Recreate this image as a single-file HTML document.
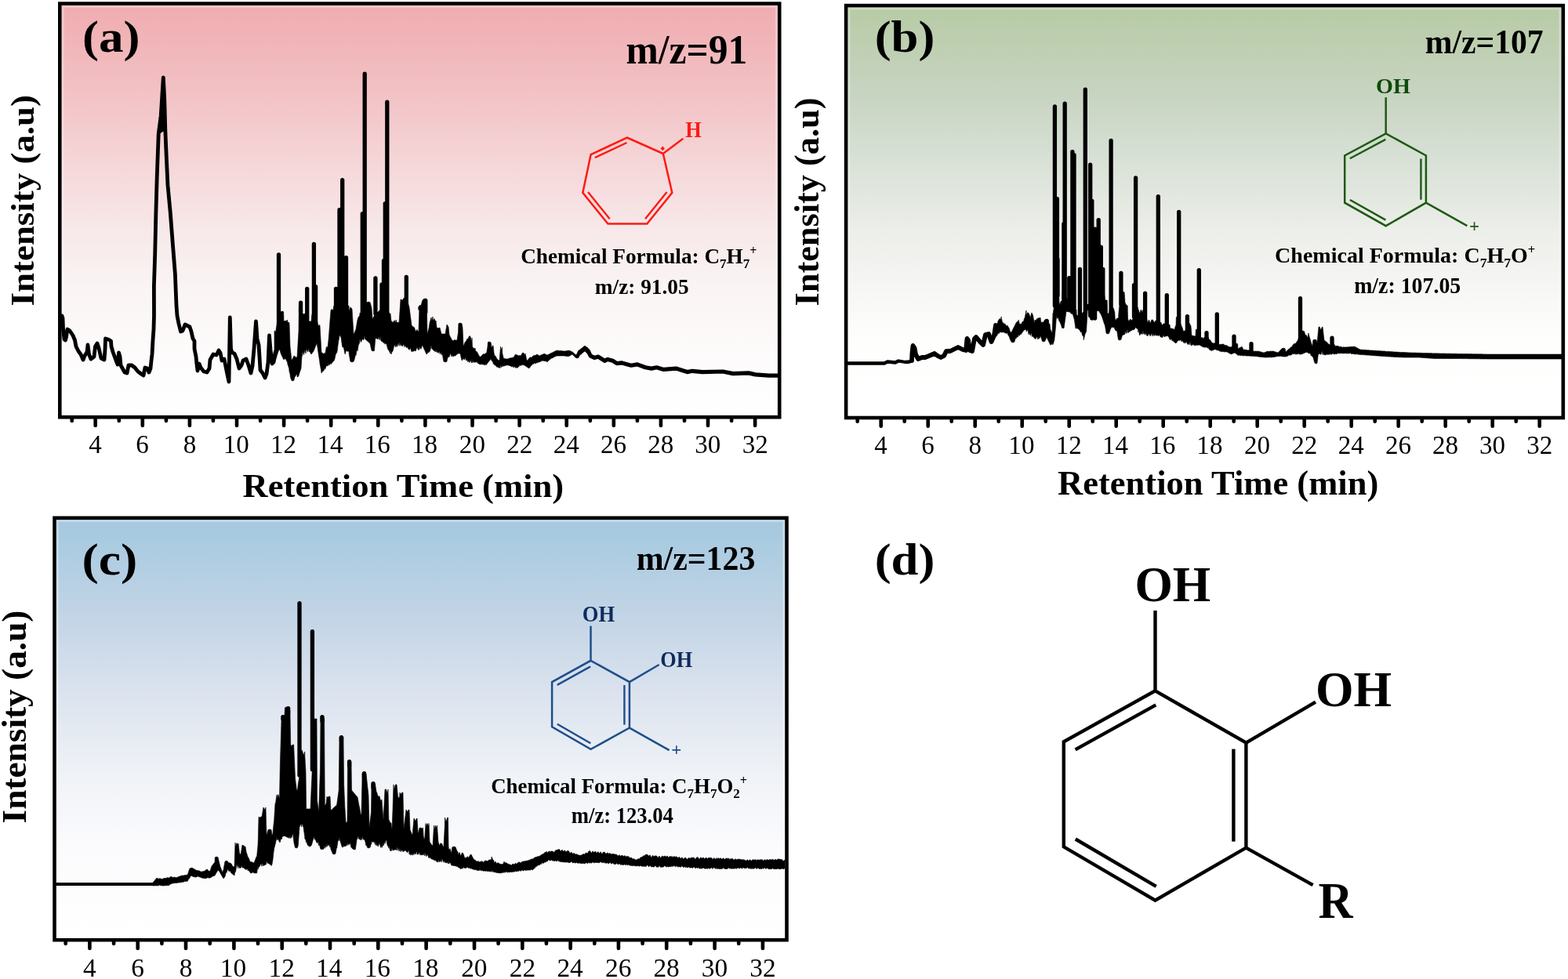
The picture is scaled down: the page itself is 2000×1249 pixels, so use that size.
<!DOCTYPE html>
<html><head><meta charset="utf-8"><title>Chromatograms</title>
<style>html,body{margin:0;padding:0;background:#fff;overflow:hidden;} svg{display:block;}</style>
</head><body>
<svg width="2000" height="1249" viewBox="0 0 2000 1249"><defs>
<linearGradient id="ga" x1="0" y1="0" x2="0" y2="1">
  <stop offset="0" stop-color="#F0ACB0"/>
  <stop offset="0.2" stop-color="#F2C0C3"/>
  <stop offset="0.382" stop-color="#F5D6D8"/>
  <stop offset="0.535" stop-color="#F7E7E8"/>
  <stop offset="0.688" stop-color="#FAF4F4"/>
  <stop offset="0.85" stop-color="#FDFBFB"/>
  <stop offset="1" stop-color="#FFFFFF"/>
</linearGradient>
<linearGradient id="gb" x1="0" y1="0" x2="0" y2="1">
  <stop offset="0" stop-color="#B7CBA5"/>
  <stop offset="0.216" stop-color="#C8D4C2"/>
  <stop offset="0.389" stop-color="#DAE2D8"/>
  <stop offset="0.543" stop-color="#ECEEE9"/>
  <stop offset="0.696" stop-color="#F7F7F5"/>
  <stop offset="0.81" stop-color="#FEFEFD"/>
  <stop offset="1" stop-color="#FFFFFF"/>
</linearGradient>
<linearGradient id="gc" x1="0" y1="0" x2="0" y2="1">
  <stop offset="0" stop-color="#A6C9DF"/>
  <stop offset="0.032" stop-color="#A7CAE0"/>
  <stop offset="0.242" stop-color="#C4D5E6"/>
  <stop offset="0.429" stop-color="#DDE4EF"/>
  <stop offset="0.616" stop-color="#F0F3F7"/>
  <stop offset="0.785" stop-color="#FBFBFD"/>
  <stop offset="1" stop-color="#FFFFFF"/>
</linearGradient>
</defs><rect x="78.6" y="6.9" width="913.3" height="523.0" fill="url(#ga)"/>
<rect x="80.10" y="8.40" width="910.30" height="520.00" fill="none" stroke="#fff" stroke-opacity="0.3" stroke-width="3.0"/>
<rect x="1081.4" y="9.4" width="910.1" height="521.3" fill="url(#gb)"/>
<rect x="1082.90" y="10.90" width="907.10" height="518.30" fill="none" stroke="#fff" stroke-opacity="0.3" stroke-width="3.0"/>
<rect x="71.8" y="663.1" width="929.4" height="533.8" fill="url(#gc)"/>
<rect x="73.30" y="664.60" width="926.40" height="530.80" fill="none" stroke="#fff" stroke-opacity="0.3" stroke-width="3.0"/>
<path d="M350.0,422.0 L351.7,423.3 L353.4,411.6 L355.1,412.8 L356.8,401.2 L357.9,397.8 L358.5,397.6 L360.0,397.0 L360.2,397.1 L361.7,397.8 L361.9,405.9 L362.0,410.0 L363.6,409.3 L365.3,409.6 L366.5,408.0 L367.0,411.1 L368.7,411.5 L369.0,412.0 L370.0,442.0 L370.4,445.6 L372.0,460.0 L372.1,459.8 L373.8,456.4 L375.0,454.0 L375.5,454.2 L377.2,455.7 L378.9,455.9 L379.0,456.0 L380.6,428.8 L381.0,422.0 L381.3,390.8 L382.3,390.3 L383.0,390.0 L384.0,390.4 L385.1,390.8 L385.7,396.9 L386.0,400.0 L387.4,400.8 L389.1,400.0 L390.0,400.0 L390.8,402.0 L392.5,406.3 L394.0,410.0 L394.2,410.0 L395.9,410.0 L397.0,410.0 L397.6,403.9 L397.9,400.8 L399.3,400.3 L400.0,400.0 L401.0,400.4 L402.1,400.8 L402.7,403.1 L404.0,408.0 L404.4,408.7 L406.1,415.8 L407.8,414.6 L408.0,415.0 L409.5,441.2 L410.0,450.0 L411.2,450.0 L412.9,451.9 L414.0,450.0 L414.6,452.7 L416.3,442.6 L418.0,443.0 L419.0,434.0 L419.7,425.8 L421.4,403.6 L422.0,396.0 L423.1,394.4 L424.8,396.1 L426.0,390.0 L426.5,396.6 L428.2,390.0 L429.9,391.7 L431.6,390.0 L433.3,396.5 L435.0,390.0 L436.7,390.3 L438.4,390.0 L440.1,395.0 L441.8,390.0 L443.5,390.2 L445.0,390.0 L445.2,397.0 L446.9,391.9 L448.6,393.6 L449.0,394.0 L450.3,415.4 L451.0,427.0 L452.0,424.7 L453.7,420.7 L454.0,420.0 L455.4,411.6 L456.0,408.0 L457.1,404.7 L458.8,402.4 L459.0,399.0 L460.5,400.2 L462.2,396.9 L463.9,398.3 L465.0,395.0 L465.6,395.1 L467.3,387.7 L467.9,385.8 L469.0,385.4 L470.0,385.0 L470.7,385.3 L472.1,385.8 L472.4,386.9 L474.0,393.0 L474.1,394.4 L475.0,407.0 L475.8,405.6 L477.5,402.6 L479.0,400.0 L479.2,405.1 L480.9,398.7 L482.0,398.0 L482.6,397.4 L484.3,396.0 L485.0,395.0 L486.0,395.4 L487.7,395.0 L489.4,395.0 L490.0,395.0 L491.1,402.7 L492.8,396.7 L494.5,400.0 L496.2,398.9 L497.9,400.5 L498.0,400.0 L499.0,410.0 L499.6,409.8 L501.3,411.6 L503.0,408.7 L504.7,411.7 L505.0,408.0 L506.4,411.7 L508.1,411.1 L509.0,412.0 L509.8,400.0 L511.0,382.0 L511.5,381.8 L513.2,383.3 L514.9,380.4 L516.0,380.0 L516.6,380.7 L518.3,383.2 L520.0,385.0 L520.0,385.0 L521.7,390.9 L522.0,392.0 L523.4,402.7 L525.0,415.0 L525.1,415.1 L526.8,416.9 L528.5,417.7 L530.2,423.0 L531.9,420.4 L533.6,423.5 L534.0,422.0 L535.0,390.0 L535.3,389.5 L537.0,389.8 L538.7,383.8 L539.9,381.8 L540.4,381.6 L542.0,381.0 L542.1,381.0 L543.8,381.7 L544.1,381.8 L545.0,427.0 L545.5,424.5 L547.2,418.2 L548.0,412.0 L548.9,408.9 L550.0,405.0 L550.6,409.6 L552.0,404.0 L552.3,409.1 L554.0,406.5 L555.7,410.7 L556.0,409.0 L557.0,418.0 L557.4,418.0 L559.1,418.9 L560.8,418.0 L561.0,418.0 L562.5,424.0 L563.0,426.0 L564.2,426.0 L565.9,426.0 L567.6,426.0 L568.0,426.0 L569.3,418.2 L570.0,414.0 L571.0,415.5 L572.0,417.0 L572.7,424.0 L573.0,427.0 L574.4,429.8 L576.0,433.0 L576.1,433.0 L577.8,435.1 L579.5,433.5 L581.2,434.1 L582.9,434.0 L583.0,434.0 L584.5,424.0 L584.6,421.2 L584.9,412.8 L586.3,412.3 L587.0,412.0 L588.0,412.4 L589.1,412.8 L589.7,416.3 L590.0,418.0 L591.0,442.0 L591.4,441.0 L593.0,437.0 L593.1,436.8 L594.8,434.7 L596.0,432.0 L596.5,433.2 L598.2,429.4 L599.0,428.5 L599.9,429.2 L601.6,436.5 L602.0,431.0 L602.5,443.0 L603.3,443.2 L605.0,444.9 L606.0,444.0 L606.7,448.0 L608.4,448.8 L610.0,452.0 L610.1,452.1 L611.8,455.2 L613.0,455.0 L613.5,454.9 L615.2,452.8 L616.0,452.0 L616.9,451.6 L618.6,452.1 L620.0,450.0 L620.3,452.4 L622.0,442.0 L622.0,442.0 L622.3,436.8 L623.7,436.1 L624.0,436.0 L625.4,436.5 L626.1,436.8 L627.1,443.5 L628.8,440.7 L629.0,441.0 L630.0,450.0 L630.5,453.3 L632.2,454.4 L633.9,457.9 L634.0,458.0 L635.6,459.3 L637.0,460.0 L637.3,457.2 L638.5,442.0 L639.0,446.8 L640.5,443.0 L640.7,450.4 L642.0,456.0 L642.4,457.3 L644.1,457.4 L645.0,458.0 L645.8,457.8 L647.5,458.0 L649.2,457.2 L650.0,457.0 L650.9,456.8 L652.6,456.6 L654.3,456.1 L655.0,456.0 L656.0,454.4 L657.5,452.0 L657.7,452.1 L659.4,452.9 L661.1,453.6 L662.0,454.0 L662.8,453.4 L664.5,453.8 L666.2,450.6 L667.0,450.0 L667.9,450.3 L669.6,453.7 L670.0,451.0 L671.3,457.1 L672.0,460.0 L673.0,459.7 L674.7,457.3 L676.0,456.0 L676.4,455.8 L678.1,456.2 L679.8,454.1 L680.0,454.0 L681.5,453.4 L683.2,453.2 L684.9,452.0 L685.0,452.0 L686.6,453.1 L688.0,454.0 L688.3,453.9 L690.0,453.1 L691.7,452.2 L693.4,451.8 L694.0,451.0 L695.1,451.7 L696.8,452.4 L698.0,453.0 L698.5,452.8 L700.2,452.0 L701.9,451.1 L702.0,451.0 L703.6,450.2 L705.3,449.5 L707.0,448.5 L708.7,447.7 L710.0,447.0 L710.4,447.2 L712.1,447.2 L713.8,447.5 L715.5,447.5 L717.2,447.7 L718.9,447.9 L720.0,448.0 L720.6,447.9 L722.3,447.7 L724.0,447.3 L725.7,447.2 L726.0,447.0 L727.4,447.7 L729.1,448.5 L730.0,449.0 L730.8,449.6 L732.5,451.0 L734.2,452.4 L735.0,453.0 L735.9,451.2 L737.6,447.8 L738.0,447.0 L739.3,446.4 L741.0,444.9 L742.7,443.9 L744.4,442.6 L746.0,441.5 L746.1,441.6 L747.8,442.9 L749.5,443.7 L750.0,444.0 L750.0,452.0 L749.5,451.2 L747.8,449.8 L746.1,448.0 L746.0,448.0 L744.4,449.1 L742.7,450.2 L741.0,451.3 L739.3,453.5 L738.0,456.2 L737.6,456.4 L735.9,457.0 L735.0,456.6 L734.2,456.3 L732.5,454.7 L730.8,452.9 L730.0,452.0 L729.1,452.5 L727.4,453.6 L726.0,454.3 L725.7,454.6 L724.0,454.5 L722.3,454.5 L720.6,454.1 L720.0,454.0 L718.9,454.0 L717.2,454.0 L715.5,453.9 L713.8,454.0 L712.1,454.0 L710.4,454.0 L710.0,454.0 L708.7,454.7 L707.0,455.3 L705.3,456.4 L703.6,457.0 L702.0,458.0 L701.9,457.9 L700.2,459.8 L698.5,460.9 L698.0,462.0 L696.8,460.8 L695.1,461.0 L694.0,459.9 L693.4,460.5 L691.7,460.1 L690.0,461.0 L688.3,461.8 L688.0,462.0 L686.6,462.1 L685.0,463.2 L684.9,462.3 L683.2,463.9 L681.5,463.0 L680.0,464.8 L679.8,464.0 L678.1,466.1 L676.4,467.7 L676.0,468.8 L674.7,469.7 L673.0,468.9 L672.0,467.8 L671.3,467.9 L670.0,466.0 L669.6,466.9 L667.9,464.9 L667.0,466.2 L666.2,464.5 L664.5,466.7 L662.8,465.7 L662.0,467.8 L661.1,467.9 L659.4,469.7 L657.7,467.7 L657.5,469.6 L656.0,466.9 L655.0,469.0 L654.3,467.3 L652.6,468.0 L650.9,466.4 L650.0,466.9 L649.2,465.9 L647.5,466.1 L645.8,465.8 L645.0,466.5 L644.1,466.6 L642.4,466.9 L642.0,466.7 L640.7,468.0 L640.5,465.0 L639.0,469.3 L638.5,465.5 L637.3,469.7 L637.0,469.1 L635.6,469.0 L634.0,467.4 L633.9,468.4 L632.2,466.2 L630.5,465.5 L630.0,464.2 L629.0,464.0 L628.8,461.8 L627.1,460.2 L626.1,458.2 L625.4,458.8 L624.0,460.5 L623.7,460.9 L622.3,462.6 L622.0,463.0 L622.0,463.0 L620.3,465.6 L620.0,464.1 L618.6,465.9 L616.9,464.7 L616.0,465.6 L615.2,463.8 L613.5,465.3 L613.0,464.1 L611.8,465.1 L610.1,463.4 L610.0,464.0 L608.4,461.7 L606.7,462.3 L606.0,460.9 L605.0,462.8 L603.3,460.7 L602.5,463.0 L602.0,457.6 L601.6,463.0 L599.9,459.3 L599.0,462.7 L598.2,460.8 L596.5,461.6 L596.0,458.6 L594.8,460.2 L593.1,455.0 L593.0,458.8 L591.4,457.4 L591.0,458.7 L590.0,456.5 L589.7,459.5 L589.1,459.9 L588.0,455.5 L587.0,451.0 L586.3,451.0 L584.9,451.0 L584.6,451.0 L584.5,451.0 L583.0,452.0 L582.9,451.7 L581.2,453.8 L579.5,454.1 L577.8,455.0 L576.1,452.5 L576.0,455.0 L574.4,450.5 L573.0,455.5 L572.7,454.0 L572.0,455.8 L571.0,456.0 L570.0,461.2 L569.3,461.5 L568.0,462.0 L567.6,461.8 L565.9,461.2 L564.2,451.5 L563.0,452.8 L562.5,449.5 L561.0,451.6 L560.8,448.3 L559.1,450.5 L557.4,448.4 L557.0,449.5 L556.0,445.9 L555.7,448.8 L554.0,447.7 L552.3,446.3 L552.0,445.7 L550.6,444.6 L550.0,440.2 L548.9,446.8 L548.0,448.4 L547.2,449.6 L545.5,449.4 L545.0,451.2 L544.1,451.9 L543.8,451.5 L542.1,447.7 L542.0,447.5 L540.4,443.9 L539.9,443.1 L538.7,440.0 L537.0,445.3 L535.3,442.5 L535.0,446.3 L534.0,444.9 L533.6,446.8 L531.9,442.8 L530.2,447.9 L528.5,447.3 L526.8,448.5 L525.1,447.7 L525.0,448.8 L523.4,443.7 L522.0,446.5 L521.7,445.9 L520.0,444.0 L520.0,442.7 L518.3,443.5 L516.6,440.0 L516.0,442.8 L514.9,438.9 L513.2,442.0 L511.5,439.1 L511.0,441.3 L509.8,436.6 L509.0,441.4 L508.1,437.6 L506.4,442.4 L505.0,440.3 L504.7,443.0 L503.0,439.6 L501.3,447.2 L499.6,449.9 L499.0,452.0 L498.0,445.6 L497.9,450.9 L496.2,447.5 L494.5,445.0 L492.8,437.9 L491.1,439.2 L490.0,436.5 L489.4,437.8 L487.7,435.8 L486.0,434.9 L485.0,428.7 L484.3,433.8 L482.6,430.1 L482.0,433.0 L480.9,431.7 L479.2,432.1 L479.0,428.5 L477.5,447.4 L475.8,447.9 L475.0,447.6 L474.1,447.3 L474.0,447.2 L472.4,439.9 L472.1,438.5 L470.7,436.9 L470.0,436.3 L469.0,435.4 L467.9,434.5 L467.3,434.0 L465.6,432.5 L465.0,427.8 L463.9,433.8 L462.2,432.4 L460.5,436.5 L459.0,431.8 L458.8,436.8 L457.1,440.8 L456.0,448.0 L455.4,444.8 L454.0,453.3 L453.7,451.8 L452.0,458.7 L451.0,461.2 L450.3,461.5 L449.0,462.0 L448.6,461.8 L446.9,461.2 L445.2,451.6 L445.0,447.7 L443.5,448.5 L441.8,446.9 L440.1,451.9 L438.4,443.4 L436.7,442.6 L435.0,430.4 L433.3,427.3 L431.6,436.0 L429.9,449.3 L428.2,452.1 L426.5,459.6 L426.0,460.0 L424.8,461.6 L423.1,463.3 L422.0,465.0 L421.4,463.0 L419.7,466.2 L419.0,463.6 L418.0,467.0 L416.3,466.5 L414.6,471.3 L414.0,468.7 L412.9,473.1 L411.2,473.9 L410.0,476.0 L409.5,471.7 L408.0,464.0 L407.8,461.7 L406.1,450.7 L404.4,439.1 L404.0,438.0 L402.7,441.3 L402.1,442.7 L401.0,445.5 L400.0,448.0 L399.3,448.9 L397.9,450.8 L397.6,451.2 L397.0,452.0 L395.9,449.8 L394.2,448.3 L394.0,444.2 L392.5,449.1 L390.8,444.9 L390.0,451.0 L389.1,446.0 L387.4,452.6 L386.0,448.1 L385.7,453.6 L385.1,453.9 L384.0,470.0 L383.0,473.0 L382.3,475.1 L381.3,478.1 L381.0,479.0 L380.6,480.2 L379.0,481.0 L378.9,477.1 L377.2,479.2 L375.5,482.0 L375.0,485.2 L373.8,485.7 L372.1,485.7 L372.0,485.6 L370.4,481.2 L370.0,477.3 L369.0,474.0 L368.7,470.1 L367.0,465.0 L366.5,462.3 L365.3,459.8 L363.6,457.1 L362.0,459.0 L361.9,458.8 L361.7,458.4 L360.2,455.4 L360.0,455.0 L358.5,451.7 L357.9,450.1 L356.8,445.6 L355.1,448.0 L353.4,453.3 L351.7,458.9 L350.0,463.0 Z" fill="#000" stroke="#000" stroke-width="0.6" stroke-linejoin="round"/>
<path d="M202.2,170.8 L205.2,148.0 L208.3,99.0 L209.8,128.0 L210.8,165.8 L207.0,168.0 Z" fill="#000" stroke="#000" stroke-width="1" stroke-linejoin="round"/>
<path d="M78.0,405.0 L79.0,403.0 L80.0,406.0 L80.5,419.0 L82.0,433.0 L83.5,434.0 L84.5,430.0 L86.0,420.0 L89.0,422.0 L93.0,428.0 L95.5,434.0 L97.0,442.0 L100.0,448.0 L103.0,452.0 L106.0,459.0 L108.0,454.0 L111.0,449.0 L112.0,440.0 L113.5,452.0 L116.0,458.0 L120.0,455.0 L121.5,442.0 L124.0,438.0 L126.0,444.0 L129.0,457.0 L133.0,459.0 L134.0,446.0 L134.5,432.0 L138.0,433.0 L141.5,435.0 L142.0,442.0 L144.0,449.0 L148.0,460.0 L150.0,465.0 L151.5,450.0 L153.0,455.0 L154.0,466.0 L159.0,475.0 L162.0,476.0 L164.0,466.0 L168.0,466.0 L172.0,469.0 L176.0,474.0 L180.0,477.0 L183.0,479.0 L185.0,469.0 L188.0,470.0 L190.0,475.0 L192.0,470.0 L193.0,460.0 L194.0,452.0 L195.0,434.0 L196.0,420.0 L196.5,403.0 L196.4,365.0 L197.7,324.7 L198.9,271.7 L200.2,226.3 L202.2,170.8 L205.2,148.0 L208.3,98.9 L209.8,128.0 L210.8,165.8 L212.3,201.0 L214.0,236.4 L217.3,271.7 L220.4,312.0 L223.4,350.0 L225.0,390.0 L226.0,403.0 L228.0,413.0 L230.5,423.0 L233.0,422.0 L236.0,414.0 L242.0,417.0 L244.0,423.0 L246.0,432.0 L248.0,435.0 L248.0,445.0 L250.0,455.0 L251.0,465.0 L252.0,473.0 L254.0,464.0 L256.0,469.0 L260.0,474.0 L264.0,475.0 L267.0,470.0 L268.0,459.0 L272.0,452.0 L276.0,453.0 L279.0,447.0 L281.0,450.0 L283.0,460.0 L286.0,458.0 L288.0,468.0 L290.0,478.0 L292.0,487.0 L293.3,405.0 L294.5,445.0 L296.0,450.0 L299.0,451.0 L302.0,458.0 L305.0,470.0 L308.0,466.0 L310.0,460.0 L314.0,458.0 L317.0,466.0 L320.0,476.0 L322.0,467.0 L324.0,445.0 L326.5,410.0 L328.0,432.0 L330.0,440.0 L331.0,455.0 L332.0,472.0 L335.0,476.0 L338.0,482.0 L340.0,477.0 L342.0,462.0 L343.5,428.0 L345.0,446.0 L347.0,464.0 L349.0,462.0 L351.0,450.0 L353.0,445.0" fill="none" stroke="#000" stroke-width="4.8" stroke-linejoin="round" stroke-linecap="round"/>
<path d="M740.0,450.0 L745.9,444.0 L750.4,448.0 L753.0,453.8 L758.2,456.4 L762.8,455.0 L771.2,460.3 L775.1,458.4 L781.6,460.3 L786.8,463.6 L793.3,462.9 L805.0,466.2 L812.8,464.9 L823.2,468.8 L831.0,470.1 L837.5,468.8 L846.6,471.4 L862.2,470.1 L876.5,474.6 L883.0,473.3 L896.0,474.6 L922.0,474.0 L935.0,476.6 L954.6,475.9 L963.7,477.9 L980.6,479.2 L992.0,479.2" fill="none" stroke="#000" stroke-width="5.2" stroke-linejoin="round" stroke-linecap="round"/>
<path d="M355.5,324.9 L355.5,413.2 M383.6,386.2 L383.6,397.0 M391.7,368.5 L391.7,409.2 M400.4,311.3 L400.4,405.8 M402.6,365.6 L402.6,410.2 M428.5,368.5 L428.5,395.0 M433.0,267.6 L433.0,395.0 M436.7,229.7 L436.7,395.0 M441.5,328.6 L441.5,395.0 M462.3,272.6 L462.3,400.0 M465.2,94.1 L465.2,399.6 M478.9,354.9 L478.9,400.0 M487.0,363.0 L487.0,400.0 M489.5,332.6 L489.5,400.0 M491.3,259.6 L491.3,400.0 M493.8,130.2 L493.8,400.0 M518.3,353.5 L518.3,387.9 M536.0,392.6 L536.0,393.7 M542.8,383.4 L542.8,398.3" fill="none" stroke="#000" stroke-width="5.3" stroke-linecap="round"/>
<path d="M1270.0,413.0 L1271.7,413.9 L1273.4,408.7 L1274.0,408.0 L1275.1,406.5 L1276.8,407.5 L1277.0,404.0 L1278.5,411.3 L1280.0,412.0 L1280.2,413.2 L1281.9,413.1 L1283.6,415.9 L1285.0,415.0 L1285.3,415.9 L1287.0,418.6 L1288.7,423.7 L1290.0,424.0 L1290.4,423.2 L1292.1,419.8 L1293.8,416.4 L1295.5,413.0 L1296.0,412.0 L1297.2,410.4 L1298.9,410.1 L1299.0,408.0 L1300.6,414.0 L1302.0,413.0 L1302.3,414.4 L1304.0,410.5 L1305.7,410.1 L1306.0,408.0 L1307.4,404.5 L1309.0,396.0 L1309.1,401.9 L1310.8,398.4 L1312.0,400.0 L1312.5,399.9 L1314.2,405.3 L1315.9,399.0 L1316.0,399.0 L1317.6,402.6 L1319.3,412.5 L1320.0,408.0 L1321.0,409.2 L1322.7,406.6 L1324.0,406.0 L1324.4,405.9 L1326.1,405.6 L1327.0,405.0 L1327.8,411.5 L1329.5,410.8 L1330.0,412.0 L1331.2,410.3 L1332.9,407.8 L1332.9,407.8 L1334.6,407.2 L1335.0,407.0 L1336.3,407.5 L1337.1,407.8 L1338.0,413.7 L1339.0,413.0 L1339.7,420.0 L1341.4,423.4 L1342.0,426.0 L1343.0,400.0 L1343.1,400.8 L1344.8,388.8 L1346.5,381.3 L1347.5,372.0 L1348.2,372.3 L1349.9,372.0 L1350.6,372.0 L1350.9,384.0 L1351.6,389.5 L1353.3,384.0 L1354.6,384.0 L1354.9,372.8 L1355.0,372.0 L1355.0,372.0 L1356.7,372.6 L1357.1,372.8 L1358.4,375.8 L1360.1,379.8 L1360.6,381.0 L1361.4,381.0 L1361.8,388.0 L1361.8,388.0 L1363.5,389.4 L1364.5,388.0 L1365.0,391.0 L1365.2,391.0 L1366.9,392.0 L1368.3,391.0 L1368.6,391.8 L1370.3,392.7 L1372.0,397.5 L1373.0,395.0 L1373.2,402.0 L1373.7,402.0 L1375.4,402.9 L1375.6,402.0 L1376.0,398.0 L1377.1,398.0 L1378.8,401.4 L1379.5,398.0 L1380.5,399.9 L1382.0,398.0 L1382.2,401.4 L1383.9,394.3 L1385.6,394.7 L1387.2,388.0 L1387.3,388.1 L1389.0,388.0 L1390.4,388.0 L1390.7,397.8 L1390.8,401.0 L1392.4,401.0 L1394.1,401.0 L1395.8,401.0 L1397.5,401.0 L1398.0,401.0 L1398.4,389.0 L1399.2,389.0 L1400.9,389.1 L1402.0,389.0 L1402.6,384.2 L1403.9,372.8 L1404.3,372.6 L1406.0,372.0 L1406.0,372.0 L1407.7,372.6 L1408.1,372.8 L1409.4,380.6 L1409.8,383.0 L1411.1,383.0 L1412.2,383.0 L1412.6,400.0 L1412.8,400.0 L1414.2,400.0 L1414.5,398.7 L1415.9,392.8 L1416.2,392.7 L1417.9,392.0 L1418.0,392.0 L1419.6,392.6 L1420.1,392.8 L1421.3,396.5 L1421.8,398.0 L1422.2,406.0 L1423.0,408.7 L1424.7,406.0 L1426.4,406.0 L1426.5,406.0 L1427.0,398.0 L1428.1,388.4 L1429.8,373.7 L1429.9,372.8 L1431.5,372.2 L1432.0,372.0 L1433.2,372.5 L1434.1,372.8 L1434.9,384.5 L1435.0,386.0 L1436.6,389.3 L1438.2,390.0 L1438.3,397.6 L1438.6,407.0 L1440.0,410.0 L1441.7,407.0 L1443.4,408.7 L1444.8,407.0 L1445.1,407.0 L1446.0,400.0 L1446.8,401.8 L1448.5,396.4 L1450.2,400.2 L1451.5,392.0 L1451.9,399.6 L1452.0,395.0 L1453.6,400.0 L1455.3,395.0 L1457.0,398.6 L1458.0,395.0 L1458.5,405.0 L1458.7,405.0 L1460.4,409.1 L1462.0,405.0 L1462.1,405.7 L1463.0,408.0 L1463.8,412.1 L1465.5,408.0 L1467.2,412.6 L1468.9,408.0 L1470.0,408.0 L1470.6,408.2 L1472.3,411.7 L1474.0,409.0 L1474.0,409.0 L1475.7,409.6 L1477.4,412.5 L1479.1,410.7 L1480.0,411.0 L1480.8,411.3 L1482.5,415.2 L1484.2,412.7 L1485.0,413.0 L1485.9,413.1 L1487.6,414.0 L1489.3,413.6 L1491.0,414.4 L1492.0,414.0 L1492.7,419.2 L1494.4,418.8 L1495.0,420.0 L1496.1,418.9 L1497.8,421.0 L1499.5,415.5 L1500.0,415.0 L1500.3,404.8 L1501.0,404.0 L1501.2,404.1 L1502.9,404.7 L1503.1,404.8 L1504.6,410.7 L1506.3,414.0 L1507.0,416.0 L1508.0,418.0 L1509.7,423.6 L1510.0,422.0 L1511.4,422.6 L1513.1,417.6 L1514.8,416.0 L1516.5,412.7 L1517.0,412.0 L1518.2,414.4 L1519.0,416.0 L1519.9,426.8 L1520.0,428.0 L1521.6,428.3 L1523.3,428.7 L1525.0,429.0 L1525.0,429.0 L1525.3,420.8 L1526.0,420.0 L1526.7,420.3 L1528.1,420.8 L1528.4,421.6 L1530.1,427.1 L1531.8,430.5 L1532.0,431.0 L1533.5,430.6 L1535.2,432.4 L1536.0,430.0 L1536.9,431.7 L1538.6,430.0 L1540.3,431.6 L1541.0,430.0 L1542.0,432.9 L1543.7,433.8 L1545.4,436.8 L1546.0,437.0 L1547.1,438.1 L1548.8,437.7 L1550.0,438.0 L1550.5,438.1 L1552.2,438.6 L1553.9,438.7 L1555.6,440.0 L1556.0,439.0 L1557.3,439.6 L1559.0,439.0 L1560.0,439.0 L1560.7,439.3 L1562.4,440.5 L1564.1,440.6 L1565.0,441.0 L1565.8,441.3 L1567.5,442.6 L1569.2,442.7 L1570.0,443.0 L1570.9,442.2 L1572.6,441.8 L1574.3,439.3 L1574.9,438.8 L1576.0,438.4 L1577.0,438.0 L1577.7,438.3 L1578.7,438.8 L1579.0,445.0 L1579.4,444.8 L1581.1,443.7 L1582.8,443.0 L1584.0,442.0 L1584.5,443.0 L1586.0,446.0 L1586.2,446.2 L1587.9,446.0 L1589.6,446.4 L1590.0,446.0 L1591.3,446.9 L1593.0,446.7 L1594.7,447.3 L1596.4,447.4 L1598.1,447.8 L1599.0,448.0 L1599.8,448.2 L1601.5,448.0 L1603.2,448.2 L1604.9,448.0 L1605.0,448.0 L1606.6,448.5 L1608.3,449.0 L1610.0,449.4 L1611.7,449.9 L1612.0,450.0 L1613.4,449.5 L1615.1,448.8 L1616.8,448.2 L1617.0,448.0 L1618.5,448.5 L1620.2,448.0 L1621.9,448.2 L1623.6,448.0 L1624.0,448.0 L1625.3,448.4 L1627.0,449.0 L1628.7,449.6 L1630.0,450.0 L1630.4,449.6 L1632.1,448.0 L1633.8,446.0 L1634.9,444.8 L1635.5,444.6 L1637.0,444.0 L1637.2,444.1 L1638.9,444.7 L1639.1,444.8 L1640.0,449.0 L1640.6,448.4 L1642.3,446.7 L1644.0,445.0 L1645.7,444.6 L1646.0,443.0 L1647.4,443.1 L1649.1,439.9 L1650.8,438.8 L1651.0,438.0 L1652.5,438.6 L1654.2,435.6 L1655.0,435.0 L1655.9,432.5 L1657.6,428.6 L1659.3,423.1 L1659.4,422.8 L1661.0,422.2 L1661.5,422.0 L1662.7,422.5 L1663.6,422.8 L1664.4,425.8 L1665.0,428.0 L1666.1,427.2 L1667.8,431.0 L1669.0,425.0 L1669.5,427.6 L1671.2,433.1 L1672.0,436.0 L1672.9,438.7 L1674.0,442.0 L1674.6,436.5 L1674.9,433.8 L1676.3,433.3 L1677.0,433.0 L1678.0,433.4 L1679.1,433.8 L1679.7,436.6 L1680.0,438.0 L1681.4,423.3 L1682.0,417.0 L1683.1,417.0 L1684.8,421.0 L1686.5,417.0 L1687.0,417.0 L1688.2,427.2 L1689.0,434.0 L1689.9,434.7 L1691.6,436.0 L1693.0,437.0 L1693.3,438.0 L1695.0,439.0 L1696.0,440.0 L1696.7,439.9 L1698.4,441.1 L1700.1,439.3 L1701.5,439.0 L1701.8,439.2 L1703.5,441.9 L1705.0,441.0 L1705.2,441.5 L1706.9,441.4 L1708.6,442.6 L1710.3,442.1 L1712.0,443.3 L1713.7,442.7 L1715.0,443.0 L1715.4,443.0 L1717.1,442.9 L1718.8,442.7 L1720.5,442.8 L1722.2,442.4 L1723.9,442.3 L1725.6,442.2 L1727.3,442.3 L1728.0,442.0 L1729.0,442.9 L1730.7,443.5 L1732.4,444.7 L1734.1,445.5 L1735.0,446.0 L1735.8,446.1 L1737.5,446.2 L1739.2,446.3 L1740.9,446.4 L1742.6,446.5 L1744.3,446.7 L1746.0,446.7 L1747.7,447.0 L1749.4,447.0 L1750.0,447.0 L1751.1,447.1 L1752.8,447.3 L1754.5,447.3 L1756.2,447.5 L1757.9,447.5 L1759.6,447.7 L1761.3,447.8 L1763.0,447.9 L1764.7,448.0 L1765.0,448.0 L1766.4,448.1 L1768.1,448.4 L1769.8,448.3 L1771.5,448.6 L1773.2,448.5 L1774.9,448.7 L1776.6,448.8 L1778.3,449.0 L1780.0,449.0 L1780.0,449.0 L1781.7,449.1 L1783.4,449.3 L1785.1,449.3 L1786.8,449.5 L1788.5,449.4 L1790.2,449.6 L1791.9,449.6 L1793.6,449.7 L1795.3,449.8 L1797.0,449.9 L1798.7,449.9 L1800.0,450.0 L1800.4,450.0 L1802.1,450.1 L1803.8,450.1 L1805.5,450.1 L1807.2,450.2 L1808.9,450.2 L1810.6,450.3 L1812.3,450.3 L1814.0,450.4 L1815.7,450.4 L1817.4,450.4 L1819.1,450.5 L1820.0,450.5 L1820.8,450.6 L1822.5,450.6 L1824.2,450.7 L1825.9,450.6 L1827.6,450.9 L1829.3,450.7 L1831.0,450.9 L1832.7,450.8 L1834.4,450.9 L1836.1,450.9 L1837.8,451.1 L1839.5,451.0 L1840.0,451.0 L1841.2,451.0 L1842.9,451.1 L1844.6,451.1 L1846.3,451.2 L1848.0,451.1 L1849.7,451.2 L1851.4,451.2 L1853.1,451.3 L1854.8,451.2 L1856.5,451.3 L1858.2,451.3 L1859.9,451.4 L1861.6,451.4 L1863.3,451.4 L1865.0,451.4 L1866.7,451.5 L1868.4,451.5 L1870.0,451.5 L1870.1,451.5 L1871.8,451.5 L1873.5,451.6 L1875.2,451.6 L1876.9,451.6 L1878.6,451.7 L1880.3,451.7 L1882.0,451.7 L1883.7,451.7 L1885.4,451.8 L1887.1,451.8 L1888.8,451.8 L1890.5,451.8 L1892.2,451.9 L1893.9,451.9 L1895.6,451.9 L1897.3,452.0 L1899.0,452.0 L1900.0,452.0 L1900.7,452.0 L1902.4,452.0 L1904.1,452.0 L1905.8,452.0 L1907.5,452.0 L1909.2,452.0 L1910.9,452.0 L1912.6,452.0 L1914.3,452.0 L1916.0,452.0 L1917.7,452.0 L1919.4,452.0 L1921.1,452.0 L1922.8,452.0 L1924.5,452.0 L1926.2,452.0 L1927.9,452.0 L1929.6,452.0 L1930.0,452.0 L1931.3,452.0 L1933.0,452.0 L1934.7,452.0 L1936.4,452.0 L1938.1,452.0 L1939.8,452.0 L1941.5,452.0 L1943.2,452.0 L1944.9,452.0 L1946.6,452.0 L1948.3,452.0 L1950.0,452.0 L1951.7,452.0 L1953.4,452.0 L1955.1,452.0 L1956.8,452.0 L1958.5,452.0 L1960.0,452.0 L1960.2,452.0 L1961.9,452.0 L1963.6,452.0 L1965.3,452.0 L1967.0,452.0 L1968.7,452.0 L1970.4,452.0 L1972.1,452.0 L1973.8,452.0 L1975.5,452.0 L1977.2,452.0 L1978.9,452.0 L1980.6,452.0 L1982.3,452.0 L1984.0,452.0 L1985.7,452.0 L1987.4,452.0 L1989.1,452.0 L1990.8,452.0 L1992.0,452.0 L1992.0,458.0 L1990.8,458.0 L1989.1,458.0 L1987.4,458.0 L1985.7,458.0 L1984.0,458.0 L1982.3,458.0 L1980.6,458.0 L1978.9,458.0 L1977.2,458.0 L1975.5,458.0 L1973.8,458.0 L1972.1,458.0 L1970.4,458.0 L1968.7,458.0 L1967.0,458.0 L1965.3,458.0 L1963.6,458.0 L1961.9,458.0 L1960.2,458.0 L1960.0,458.0 L1958.5,458.0 L1956.8,458.0 L1955.1,458.0 L1953.4,458.0 L1951.7,458.0 L1950.0,458.0 L1948.3,458.0 L1946.6,458.0 L1944.9,458.0 L1943.2,458.0 L1941.5,458.0 L1939.8,458.0 L1938.1,458.0 L1936.4,458.0 L1934.7,458.0 L1933.0,458.0 L1931.3,458.0 L1930.0,458.0 L1929.6,458.0 L1927.9,458.0 L1926.2,458.0 L1924.5,458.0 L1922.8,458.0 L1921.1,458.0 L1919.4,458.0 L1917.7,458.0 L1916.0,458.0 L1914.3,458.0 L1912.6,458.0 L1910.9,458.0 L1909.2,458.0 L1907.5,458.0 L1905.8,458.0 L1904.1,458.0 L1902.4,458.0 L1900.7,458.0 L1900.0,458.0 L1899.0,458.0 L1897.3,458.0 L1895.6,457.9 L1893.9,457.9 L1892.2,457.9 L1890.5,457.9 L1888.8,457.9 L1887.1,457.8 L1885.4,457.8 L1883.7,457.8 L1882.0,457.8 L1880.3,457.7 L1878.6,457.7 L1876.9,457.7 L1875.2,457.7 L1873.5,457.7 L1871.8,457.6 L1870.1,457.6 L1870.0,457.6 L1868.4,457.6 L1866.7,457.6 L1865.0,457.5 L1863.3,457.5 L1861.6,457.5 L1859.9,457.5 L1858.2,457.5 L1856.5,457.5 L1854.8,457.5 L1853.1,457.5 L1851.4,457.5 L1849.7,457.5 L1848.0,457.5 L1846.3,457.5 L1844.6,457.4 L1842.9,457.5 L1841.2,457.5 L1840.0,457.5 L1839.5,457.4 L1837.8,457.5 L1836.1,457.4 L1834.4,457.5 L1832.7,457.5 L1831.0,457.5 L1829.3,457.4 L1827.6,457.3 L1825.9,457.2 L1824.2,457.1 L1822.5,456.9 L1820.8,456.8 L1820.0,456.7 L1819.1,456.7 L1817.4,456.5 L1815.7,456.4 L1814.0,456.3 L1812.3,456.2 L1810.6,456.0 L1808.9,456.0 L1807.2,456.0 L1805.5,456.0 L1803.8,456.0 L1802.1,456.0 L1800.4,456.0 L1800.0,456.0 L1798.7,456.0 L1797.0,456.0 L1795.3,456.0 L1793.6,456.0 L1791.9,456.0 L1790.2,456.0 L1788.5,455.8 L1786.8,455.8 L1785.1,455.7 L1783.4,455.7 L1781.7,455.5 L1780.0,455.5 L1780.0,455.5 L1778.3,455.4 L1776.6,455.3 L1774.9,455.2 L1773.2,455.0 L1771.5,455.1 L1769.8,454.8 L1768.1,454.9 L1766.4,454.6 L1765.0,454.6 L1764.7,454.5 L1763.0,454.5 L1761.3,454.2 L1759.6,454.2 L1757.9,453.9 L1756.2,454.0 L1754.5,453.8 L1752.8,453.7 L1751.1,453.5 L1750.0,453.5 L1749.4,453.4 L1747.7,453.3 L1746.0,453.1 L1744.3,453.1 L1742.6,452.9 L1740.9,452.8 L1739.2,452.6 L1737.5,452.6 L1735.8,452.4 L1735.0,452.4 L1734.1,452.2 L1732.4,452.2 L1730.7,451.6 L1729.0,451.9 L1728.0,451.8 L1727.3,451.7 L1725.6,451.3 L1723.9,451.4 L1722.2,450.5 L1720.5,451.1 L1718.8,450.8 L1717.1,451.0 L1715.4,450.6 L1715.0,451.0 L1713.7,450.7 L1712.0,451.0 L1710.3,450.4 L1708.6,451.1 L1706.9,450.4 L1705.2,451.5 L1705.0,451.4 L1703.5,451.6 L1701.8,451.8 L1701.5,451.9 L1700.1,450.8 L1698.4,452.2 L1696.7,451.6 L1696.0,452.4 L1695.0,451.7 L1693.3,452.7 L1693.0,451.2 L1691.6,452.8 L1689.9,452.7 L1689.0,452.9 L1688.2,450.8 L1687.0,452.7 L1686.5,447.3 L1684.8,452.4 L1683.1,451.1 L1682.0,452.1 L1681.4,452.0 L1680.0,463.5 L1679.7,463.7 L1679.1,464.0 L1678.0,463.6 L1677.0,463.2 L1676.3,460.9 L1674.9,455.9 L1674.6,455.7 L1674.0,455.1 L1672.9,453.8 L1672.0,453.4 L1671.2,450.2 L1669.5,451.2 L1669.0,450.4 L1667.8,449.7 L1666.1,449.2 L1665.0,449.9 L1664.4,450.1 L1663.6,450.5 L1662.7,450.8 L1661.5,451.4 L1661.0,451.6 L1659.4,452.0 L1659.3,452.0 L1657.6,452.0 L1655.9,450.8 L1655.0,452.0 L1654.2,451.7 L1652.5,452.0 L1651.0,450.6 L1650.8,452.0 L1649.1,451.0 L1647.4,452.8 L1646.0,452.9 L1645.7,453.3 L1644.0,453.0 L1642.3,454.3 L1640.6,454.8 L1640.0,455.0 L1639.1,455.0 L1638.9,454.9 L1637.2,454.9 L1637.0,454.9 L1635.5,454.8 L1634.9,454.7 L1633.8,454.2 L1632.1,454.6 L1630.4,454.5 L1630.0,454.5 L1628.7,454.7 L1627.0,455.1 L1625.3,455.4 L1624.0,455.6 L1623.6,455.4 L1621.9,456.0 L1620.2,455.5 L1618.5,456.0 L1617.0,455.6 L1616.8,456.0 L1615.1,456.0 L1613.4,455.9 L1612.0,455.8 L1611.7,455.8 L1610.0,455.5 L1608.3,455.4 L1606.6,455.2 L1605.0,455.0 L1604.9,455.0 L1603.2,454.8 L1601.5,454.6 L1599.8,454.5 L1599.0,454.3 L1598.1,454.4 L1596.4,454.2 L1594.7,454.2 L1593.0,453.9 L1591.3,454.1 L1590.0,453.9 L1589.6,454.0 L1587.9,453.6 L1586.2,454.0 L1586.0,453.7 L1584.5,454.0 L1584.0,452.6 L1582.8,454.0 L1581.1,452.9 L1579.4,453.5 L1579.0,453.2 L1578.7,453.0 L1577.7,452.2 L1577.0,451.6 L1576.0,450.8 L1574.9,450.0 L1574.3,450.3 L1572.6,451.0 L1570.9,451.6 L1570.0,452.0 L1569.2,451.2 L1567.5,450.5 L1565.8,449.2 L1565.0,449.0 L1564.1,448.7 L1562.4,449.0 L1560.7,448.6 L1560.0,449.0 L1559.0,448.3 L1557.3,448.7 L1556.0,447.7 L1555.6,448.1 L1553.9,446.8 L1552.2,446.8 L1550.5,445.7 L1550.0,446.0 L1548.8,445.8 L1547.1,447.2 L1546.0,446.3 L1545.4,447.8 L1543.7,446.6 L1542.0,445.6 L1541.0,442.5 L1540.3,444.2 L1538.6,442.6 L1536.9,443.5 L1536.0,442.2 L1535.2,443.2 L1533.5,442.1 L1532.0,441.5 L1531.8,441.2 L1530.1,440.1 L1528.4,440.2 L1528.1,440.2 L1526.7,440.3 L1526.0,440.4 L1525.3,440.5 L1525.0,440.5 L1525.0,440.5 L1523.3,440.7 L1521.6,439.3 L1520.0,441.0 L1519.9,439.5 L1519.0,440.7 L1518.2,435.3 L1517.0,440.1 L1516.5,438.1 L1514.8,439.5 L1513.1,435.7 L1511.4,438.2 L1510.0,436.1 L1509.7,437.4 L1508.0,433.9 L1507.0,436.0 L1506.3,432.9 L1504.6,434.8 L1503.1,434.0 L1502.9,434.1 L1501.2,436.4 L1501.0,436.7 L1500.3,437.6 L1500.0,438.0 L1499.5,437.7 L1497.8,436.6 L1496.1,434.6 L1495.0,434.9 L1494.4,432.2 L1492.7,433.4 L1492.0,433.0 L1491.0,430.5 L1489.3,428.3 L1487.6,429.0 L1485.9,429.0 L1485.0,430.1 L1484.2,427.3 L1482.5,430.8 L1480.8,429.9 L1480.0,429.7 L1479.1,427.3 L1477.4,428.6 L1475.7,427.6 L1474.0,428.3 L1474.0,425.5 L1472.3,428.6 L1470.6,425.8 L1470.0,429.0 L1468.9,425.0 L1467.2,429.0 L1465.5,425.4 L1463.8,428.9 L1463.0,426.9 L1462.1,428.1 L1462.0,424.0 L1460.4,427.2 L1458.7,423.6 L1458.5,426.2 L1458.0,420.9 L1457.0,426.7 L1455.3,425.2 L1453.6,428.0 L1452.0,419.7 L1451.9,423.8 L1451.5,419.3 L1450.2,419.5 L1448.5,417.6 L1446.8,420.4 L1446.0,420.4 L1445.1,421.1 L1444.8,420.5 L1443.4,421.8 L1441.7,422.3 L1440.0,423.8 L1438.6,424.4 L1438.3,424.8 L1438.2,419.6 L1436.6,425.6 L1435.0,422.3 L1434.9,426.3 L1434.1,426.7 L1433.2,427.1 L1432.0,427.6 L1431.5,427.8 L1429.9,433.3 L1429.8,433.3 L1428.1,434.0 L1427.0,433.5 L1426.5,433.3 L1426.4,433.2 L1424.7,422.0 L1423.0,422.0 L1422.2,419.9 L1421.8,419.6 L1421.3,417.8 L1420.1,417.8 L1419.6,417.7 L1418.0,417.2 L1417.9,417.2 L1416.2,420.5 L1415.9,421.7 L1414.5,425.4 L1414.2,425.5 L1412.8,425.9 L1412.6,425.8 L1412.2,425.7 L1411.1,425.3 L1409.8,417.4 L1409.4,415.3 L1408.1,411.9 L1407.7,410.6 L1406.0,405.2 L1406.0,405.2 L1404.3,401.0 L1403.9,400.5 L1402.6,398.6 L1402.0,397.1 L1400.9,396.3 L1399.2,396.4 L1398.4,398.7 L1398.0,399.7 L1397.5,400.8 L1395.8,401.8 L1394.1,401.5 L1392.4,401.2 L1390.8,400.7 L1390.7,400.6 L1390.4,400.1 L1389.0,397.0 L1387.3,395.5 L1387.2,395.1 L1385.6,422.8 L1383.9,426.6 L1382.2,433.7 L1382.0,429.3 L1380.5,428.0 L1379.5,421.9 L1378.8,424.2 L1377.1,421.2 L1376.0,420.0 L1375.6,419.9 L1375.4,419.9 L1373.7,418.2 L1373.2,419.4 L1373.0,416.3 L1372.0,419.2 L1370.3,407.4 L1368.6,401.8 L1368.3,400.4 L1366.9,400.4 L1365.2,398.9 L1365.0,398.8 L1364.5,397.7 L1363.5,398.0 L1361.8,397.5 L1361.8,398.0 L1361.4,397.0 L1360.6,398.0 L1360.1,396.2 L1358.4,409.2 L1357.1,418.5 L1356.7,418.7 L1355.0,418.6 L1355.0,418.6 L1354.9,418.6 L1354.6,418.5 L1353.3,414.1 L1351.6,410.4 L1350.9,407.8 L1350.6,409.2 L1349.9,405.1 L1348.2,406.4 L1347.5,401.9 L1346.5,417.5 L1344.8,434.0 L1343.1,439.4 L1343.0,435.9 L1342.0,440.0 L1341.4,438.3 L1339.7,440.3 L1339.0,438.4 L1338.0,436.6 L1337.1,434.6 L1336.3,432.9 L1335.0,430.0 L1334.6,431.1 L1332.9,435.3 L1332.9,435.3 L1331.2,435.9 L1330.0,435.6 L1329.5,435.4 L1327.8,430.2 L1327.0,428.2 L1326.1,431.5 L1324.4,431.5 L1324.0,433.2 L1322.7,429.2 L1321.0,432.7 L1320.0,431.5 L1319.3,431.5 L1317.6,429.1 L1316.0,429.3 L1315.9,424.2 L1314.2,428.1 L1312.5,424.0 L1312.0,426.7 L1310.8,420.3 L1309.1,423.2 L1309.0,420.8 L1307.4,420.6 L1306.0,421.2 L1305.7,421.8 L1304.0,424.1 L1302.3,426.6 L1302.0,425.3 L1300.6,428.2 L1299.0,427.0 L1298.9,429.6 L1297.2,429.8 L1296.0,432.0 L1295.5,431.0 L1293.8,436.3 L1292.1,437.0 L1290.4,436.4 L1290.0,436.2 L1288.7,433.7 L1287.0,429.1 L1285.3,426.6 L1285.0,424.6 L1283.6,425.4 L1281.9,424.6 L1280.2,424.1 L1280.0,423.4 L1278.5,424.0 L1277.0,423.8 L1276.8,424.0 L1275.1,423.5 L1274.0,426.0 L1273.4,424.0 L1271.7,428.3 L1270.0,429.3 Z" fill="#000" stroke="#000" stroke-width="0.6" stroke-linejoin="round"/>
<path d="M1081.0,463.5 L1128.0,463.5 L1132.0,461.5 L1142.0,462.5 L1146.0,460.5 L1155.0,462.0 L1160.0,461.5 L1163.0,460.0" fill="none" stroke="#000" stroke-width="4.3" stroke-linejoin="round" stroke-linecap="round"/>
<path d="M1163.0,460.0 L1163.5,450.0 L1164.5,441.0 L1166.5,444.0 L1168.0,452.0 L1171.0,458.0 L1176.0,456.0 L1180.0,456.0 L1185.0,454.0 L1192.0,451.0 L1196.0,454.0 L1200.0,456.0 L1204.0,454.0 L1207.0,448.0 L1212.0,448.0 L1218.0,445.0 L1222.0,443.0 L1228.0,446.0 L1232.0,447.0 L1233.5,432.0 L1235.0,434.0 L1237.0,447.0 L1240.0,448.0 L1243.0,432.0 L1245.0,430.0 L1250.0,436.0 L1254.0,440.0 L1257.0,427.0 L1261.0,426.0 L1264.5,436.0 L1268.0,428.0 L1270.0,415.0 L1272.0,420.0" fill="none" stroke="#000" stroke-width="5.8" stroke-linejoin="round" stroke-linecap="round"/>
<path d="M1345.4,136.0 L1345.4,390.1 M1348.4,253.7 L1348.4,377.0 M1349.0,330.6 L1349.0,377.0 M1358.2,132.2 L1358.2,382.1 M1356.9,285.6 L1356.9,380.1 M1363.8,354.6 L1363.8,393.0 M1367.9,193.6 L1367.9,396.0 M1377.4,343.4 L1377.4,403.0 M1384.3,114.2 L1384.3,398.6 M1390.7,210.2 L1390.7,402.8 M1392.8,256.3 L1392.8,406.0 M1396.6,292.1 L1396.6,406.0 M1401.2,280.6 L1401.2,394.0 M1404.3,315.2 L1404.3,384.2 M1406.8,343.4 L1406.8,379.3 M1417.1,179.5 L1417.1,398.9 M1429.9,348.5 L1429.9,387.9 M1446.5,363.6 L1446.5,404.3 M1448.6,226.8 L1448.6,401.2 M1460.6,374.1 L1460.6,410.0 M1477.3,250.7 L1477.3,415.1 M1488.3,376.6 L1488.3,418.5 M1503.7,270.4 L1503.7,414.4 M1514.4,403.6 L1514.4,420.0 M1529.3,344.6 L1529.3,430.0 M1539.0,424.6 L1539.0,435.0 M1552.3,401.0 L1552.3,440.0 M1574.0,429.1 L1574.0,445.0 M1596.0,438.6 L1596.0,448.0 M1658.5,380.6 L1658.5,433.0 M1699.0,431.1 L1699.0,444.5 M1335.0,409.6 L1335.0,412.0 M1370.0,197.7 L1370.0,397.4" fill="none" stroke="#000" stroke-width="5.3" stroke-linecap="round"/>
<path d="M195.0,1126.0 L196.7,1124.0 L198.4,1121.9 L200.0,1120.0 L200.1,1120.0 L201.8,1121.2 L203.5,1120.7 L205.0,1121.0 L205.2,1121.0 L206.9,1121.8 L208.6,1120.6 L210.0,1120.5 L210.3,1120.4 L212.0,1120.3 L213.7,1119.6 L215.4,1120.1 L217.1,1118.7 L218.0,1118.5 L218.8,1118.6 L220.5,1119.5 L222.2,1119.1 L223.9,1119.4 L225.0,1119.5 L225.6,1119.6 L227.3,1118.7 L229.0,1118.1 L230.7,1117.5 L232.0,1117.0 L232.4,1116.9 L234.1,1117.1 L235.8,1116.5 L237.5,1116.4 L239.0,1116.0 L239.2,1116.3 L240.9,1110.9 L242.0,1108.0 L242.6,1107.8 L244.3,1107.3 L245.0,1107.0 L246.0,1107.9 L247.7,1108.6 L249.4,1109.8 L250.0,1110.0 L251.1,1110.4 L252.8,1110.7 L254.0,1111.0 L254.5,1111.1 L256.2,1112.2 L257.9,1111.8 L259.0,1112.0 L259.6,1111.6 L261.3,1110.9 L263.0,1109.6 L264.0,1109.0 L264.7,1109.3 L266.4,1111.6 L268.0,1111.0 L268.1,1111.1 L269.8,1105.6 L270.0,1105.0 L271.5,1103.1 L273.2,1101.0 L274.0,1100.0 L274.3,1093.8 L274.9,1093.5 L276.0,1093.0 L276.6,1093.2 L278.1,1093.8 L278.3,1094.7 L279.0,1098.0 L280.0,1102.0 L281.0,1106.0 L281.7,1107.6 L283.4,1111.7 L284.0,1113.0 L285.1,1109.3 L286.8,1099.9 L287.0,1099.0 L288.5,1098.3 L289.0,1098.0 L290.2,1098.8 L291.9,1100.7 L293.6,1101.1 L295.0,1102.0 L295.3,1102.3 L297.0,1105.8 L298.7,1105.7 L299.0,1106.0 L300.0,1075.0 L300.4,1079.8 L302.1,1075.5 L303.8,1078.1 L304.0,1076.0 L305.5,1089.1 L307.0,1090.0 L307.2,1089.6 L308.9,1078.6 L309.0,1078.0 L310.6,1078.8 L312.3,1080.0 L313.0,1080.0 L314.0,1086.7 L315.7,1091.7 L316.0,1093.0 L317.4,1095.1 L319.1,1099.7 L320.0,1099.0 L320.8,1099.7 L322.5,1100.2 L324.0,1101.0 L324.2,1100.5 L325.9,1096.0 L327.0,1093.0 L327.6,1092.9 L329.0,1078.0 L329.3,1070.7 L330.0,1042.0 L331.0,1043.4 L332.7,1042.0 L334.0,1042.0 L334.4,1039.6 L336.0,1030.0 L336.1,1030.0 L337.8,1033.3 L339.0,1030.0 L339.5,1051.8 L340.0,1066.0 L341.2,1061.5 L341.9,1058.8 L342.9,1058.4 L344.0,1058.0 L344.6,1058.2 L346.1,1058.8 L346.3,1060.4 L347.0,1066.0 L348.0,1063.3 L349.0,1052.0 L349.7,1046.4 L351.0,1025.0 L351.4,1025.7 L353.0,1014.0 L353.1,1018.5 L354.8,1013.5 L356.5,1019.1 L356.6,1013.0 L357.3,977.0 L358.2,946.7 L359.2,913.0 L359.9,912.8 L361.6,918.5 L363.0,912.0 L363.3,906.5 L363.5,902.8 L365.0,902.2 L365.6,902.0 L366.7,902.4 L367.7,902.8 L368.4,904.1 L370.0,907.0 L370.1,915.8 L370.7,950.0 L371.8,951.8 L373.5,950.0 L374.6,950.0 L375.2,963.6 L376.5,993.0 L376.9,996.2 L378.4,1008.0 L378.6,1008.0 L379.5,1008.0 L380.3,1000.3 L382.0,990.6 L383.7,967.6 L384.8,957.0 L385.4,957.3 L387.1,963.8 L388.7,959.0 L388.8,963.9 L390.0,985.0 L390.5,1024.5 L390.6,1032.0 L392.2,1032.0 L393.9,1032.0 L395.0,1032.0 L395.6,1032.0 L396.0,1032.0 L397.3,1002.1 L399.0,968.2 L400.7,923.9 L401.0,917.0 L402.4,917.0 L404.0,917.0 L404.1,937.8 L404.5,1021.0 L405.8,1030.3 L406.6,1036.0 L407.5,1009.5 L408.5,980.0 L409.0,914.0 L409.2,915.5 L410.9,914.8 L412.6,922.0 L413.6,916.0 L414.3,1028.0 L414.3,1028.0 L416.0,1025.3 L417.0,1016.0 L417.7,1018.0 L419.4,1016.0 L421.0,1016.0 L421.1,1017.8 L422.0,1034.0 L422.8,1033.3 L424.5,1031.7 L426.2,1030.1 L427.9,1028.6 L429.6,1027.0 L429.6,1027.0 L431.3,1014.6 L432.2,1008.0 L433.0,940.0 L433.0,940.0 L434.7,940.0 L436.4,940.5 L438.0,940.0 L438.1,954.0 L438.6,1000.0 L439.8,1028.7 L441.0,1048.0 L441.5,1050.0 L443.0,1048.0 L443.2,1019.9 L443.5,972.0 L444.9,973.8 L446.6,972.0 L448.0,972.0 L448.3,993.6 L448.5,1008.0 L450.0,1010.0 L450.0,1010.0 L451.7,1012.0 L453.4,1014.0 L455.1,1015.9 L456.0,1017.0 L456.8,1021.4 L458.0,1028.0 L458.5,1029.5 L460.2,1040.6 L461.0,1037.0 L461.9,998.0 L462.0,987.0 L463.6,993.4 L465.3,987.0 L467.0,987.0 L467.0,987.0 L468.7,1002.9 L470.0,1015.0 L470.4,1031.4 L471.0,1056.0 L472.1,1047.2 L473.5,1036.0 L473.8,1015.8 L474.0,1000.0 L475.5,1001.2 L477.2,1000.0 L478.5,1000.0 L478.9,1002.7 L480.0,1010.0 L480.6,1010.9 L482.3,1016.3 L484.0,1015.7 L485.7,1022.3 L487.0,1020.0 L487.4,1026.4 L489.0,1045.0 L489.1,1045.7 L490.8,1010.8 L491.0,1007.0 L492.5,1007.0 L494.2,1012.8 L495.0,1007.0 L495.9,1048.6 L496.0,1046.0 L497.6,1049.4 L499.0,1050.0 L499.3,1054.1 L500.0,1058.0 L501.0,1032.9 L502.0,1001.0 L502.7,1007.6 L504.4,1001.0 L506.0,1001.0 L506.1,1001.8 L507.8,1018.9 L508.0,1017.0 L509.5,1018.2 L510.0,1011.0 L511.2,1013.6 L512.9,1011.0 L514.0,1011.0 L514.6,1039.2 L515.0,1058.0 L516.3,1047.2 L518.0,1033.0 L518.0,1033.0 L519.7,1035.6 L521.4,1033.0 L522.0,1033.0 L523.0,1058.0 L523.1,1058.7 L524.8,1062.8 L526.0,1066.0 L526.5,1060.5 L528.0,1044.0 L528.2,1044.0 L529.9,1047.6 L531.6,1044.0 L532.0,1044.0 L533.0,1060.0 L533.3,1064.0 L535.0,1056.8 L535.5,1056.0 L536.7,1056.0 L538.4,1057.1 L539.5,1056.0 L540.1,1066.3 L541.0,1071.0 L541.8,1069.0 L543.0,1050.5 L543.5,1054.3 L545.2,1050.5 L546.9,1055.1 L547.0,1050.5 L548.0,1074.0 L548.6,1074.7 L550.3,1077.5 L552.0,1079.0 L552.0,1079.0 L553.5,1053.0 L553.7,1059.7 L555.4,1053.0 L557.1,1056.4 L557.5,1053.0 L558.8,1071.6 L559.0,1074.0 L560.5,1078.7 L562.2,1075.6 L563.0,1076.0 L563.9,1076.9 L565.6,1081.2 L566.0,1079.0 L567.3,1053.9 L567.5,1043.0 L569.0,1048.4 L570.7,1043.0 L571.5,1043.0 L572.0,1079.0 L572.4,1084.1 L574.1,1082.7 L575.8,1089.3 L576.0,1086.0 L576.9,1080.8 L577.5,1080.6 L579.0,1080.0 L579.2,1080.1 L580.9,1080.7 L581.1,1080.8 L582.6,1085.0 L584.0,1087.0 L584.3,1090.5 L586.0,1087.3 L587.7,1092.2 L589.4,1087.9 L590.0,1088.0 L591.1,1089.6 L592.8,1095.0 L594.0,1094.0 L594.5,1094.4 L596.2,1092.7 L597.9,1094.2 L599.6,1090.8 L601.0,1090.0 L601.3,1090.5 L603.0,1094.2 L604.7,1096.5 L605.0,1097.0 L606.4,1097.4 L608.1,1099.3 L609.8,1098.4 L611.5,1100.0 L612.0,1099.0 L613.2,1099.4 L614.9,1098.6 L616.6,1100.3 L618.3,1098.2 L620.0,1098.0 L620.0,1098.0 L621.7,1098.8 L623.4,1097.3 L625.0,1097.0 L625.1,1096.8 L626.8,1097.0 L627.0,1093.0 L628.5,1096.5 L630.0,1098.0 L630.2,1101.2 L631.9,1098.9 L633.6,1101.7 L635.3,1100.6 L637.0,1102.1 L638.7,1102.3 L640.0,1103.0 L640.4,1102.5 L642.1,1101.9 L643.0,1099.0 L643.8,1101.1 L645.5,1100.4 L647.2,1101.8 L648.9,1102.4 L650.0,1103.0 L650.6,1102.9 L652.3,1103.9 L654.0,1102.0 L655.7,1103.0 L657.4,1101.2 L659.1,1102.3 L660.8,1100.3 L662.0,1100.0 L662.5,1099.9 L664.2,1101.1 L665.9,1099.3 L667.6,1099.1 L669.3,1098.7 L671.0,1098.4 L672.7,1098.1 L673.0,1098.0 L674.4,1097.4 L676.1,1097.0 L677.8,1095.9 L679.5,1096.1 L681.2,1094.4 L682.0,1094.0 L682.9,1093.7 L684.6,1093.3 L686.3,1092.4 L688.0,1092.6 L689.7,1091.1 L690.0,1091.0 L691.4,1090.0 L693.1,1089.4 L694.8,1087.6 L696.5,1087.5 L697.0,1086.0 L698.2,1088.3 L699.9,1086.0 L701.6,1086.4 L703.3,1086.0 L705.0,1086.0 L705.0,1086.0 L706.7,1087.6 L708.4,1084.9 L710.1,1084.5 L711.8,1083.9 L713.0,1083.5 L713.5,1083.6 L715.2,1086.3 L716.9,1084.1 L718.6,1086.3 L720.3,1084.7 L722.0,1086.9 L723.7,1085.3 L725.0,1085.5 L725.4,1085.7 L727.1,1088.8 L728.8,1087.0 L730.5,1089.3 L732.2,1088.4 L733.9,1089.9 L735.6,1089.7 L737.3,1090.8 L739.0,1091.1 L740.0,1091.5 L740.7,1091.2 L742.4,1090.6 L744.1,1089.5 L745.8,1089.9 L747.5,1087.8 L749.2,1089.1 L750.9,1086.1 L752.0,1085.5 L752.6,1085.5 L754.3,1088.6 L756.0,1085.8 L757.7,1087.5 L759.4,1086.1 L761.1,1088.4 L762.8,1086.4 L764.5,1088.8 L766.2,1086.7 L767.9,1089.7 L769.6,1087.0 L770.0,1087.0 L771.3,1087.3 L773.0,1089.5 L774.7,1087.9 L776.4,1089.1 L778.1,1088.6 L779.8,1090.0 L781.5,1089.3 L783.2,1089.7 L784.9,1090.0 L785.0,1090.0 L786.6,1090.2 L788.3,1091.9 L790.0,1090.7 L791.7,1092.2 L793.4,1091.1 L795.1,1092.4 L796.8,1091.6 L798.5,1093.0 L800.0,1092.0 L800.2,1093.0 L801.9,1092.7 L803.6,1094.5 L805.3,1094.1 L807.0,1096.0 L808.7,1095.4 L810.4,1097.0 L812.0,1096.7 L812.1,1096.9 L813.8,1095.7 L815.5,1095.8 L817.2,1093.8 L818.9,1093.5 L820.6,1091.9 L822.3,1091.6 L824.0,1090.0 L824.0,1090.0 L825.7,1090.3 L827.4,1091.9 L829.1,1090.8 L830.8,1094.2 L832.5,1091.3 L834.2,1092.7 L835.9,1091.8 L837.5,1092.0 L837.6,1092.0 L839.3,1094.3 L841.0,1092.0 L842.7,1094.9 L844.4,1092.0 L846.1,1093.0 L847.8,1092.0 L849.5,1092.9 L851.2,1092.0 L852.9,1094.2 L854.6,1092.0 L856.3,1093.8 L857.0,1092.0 L858.0,1094.2 L859.7,1092.4 L861.4,1093.3 L863.1,1092.8 L864.8,1094.5 L866.5,1093.3 L868.2,1095.4 L869.9,1093.8 L871.6,1096.2 L873.3,1094.3 L875.0,1094.5 L875.0,1094.5 L876.7,1096.6 L878.4,1094.3 L880.1,1095.3 L881.8,1094.1 L883.5,1094.2 L885.2,1094.0 L886.9,1096.6 L888.6,1093.8 L890.0,1093.7 L890.3,1093.7 L892.0,1096.4 L893.7,1093.8 L895.4,1095.0 L897.1,1093.9 L898.8,1095.8 L900.5,1094.0 L902.2,1095.4 L903.9,1094.2 L905.6,1094.4 L907.3,1094.3 L909.0,1096.5 L910.7,1094.4 L912.4,1096.3 L914.0,1094.5 L914.1,1096.4 L915.8,1094.6 L917.5,1095.5 L919.2,1094.7 L920.9,1096.2 L922.6,1094.8 L924.3,1096.4 L926.0,1095.0 L927.7,1095.2 L929.4,1095.1 L931.1,1096.7 L932.0,1095.2 L932.8,1095.9 L934.5,1095.4 L936.2,1097.2 L937.9,1095.7 L939.6,1096.8 L941.3,1096.0 L943.0,1096.3 L944.7,1096.3 L946.4,1096.9 L948.1,1096.5 L949.8,1098.1 L950.0,1096.7 L951.5,1098.4 L953.2,1096.7 L954.9,1098.2 L956.6,1096.7 L958.3,1098.3 L960.0,1096.7 L961.7,1097.1 L963.4,1096.7 L965.1,1097.5 L966.8,1096.7 L968.5,1097.2 L970.2,1096.7 L971.9,1096.8 L972.5,1096.7 L973.6,1098.4 L975.3,1096.6 L977.0,1097.6 L978.7,1096.5 L980.4,1097.3 L982.1,1096.4 L983.8,1096.9 L985.5,1096.3 L987.2,1097.4 L988.9,1096.2 L990.6,1097.2 L992.3,1096.0 L993.5,1096.0 L994.0,1096.1 L995.7,1096.4 L997.4,1096.5 L999.1,1098.8 L1000.8,1097.0 L1001.0,1097.0 L1001.0,1108.7 L1000.8,1107.5 L999.1,1108.7 L997.4,1108.1 L995.7,1108.7 L994.0,1108.7 L993.5,1108.7 L992.3,1108.0 L990.6,1108.7 L988.9,1108.6 L987.2,1108.7 L985.5,1107.7 L983.8,1108.7 L982.1,1108.4 L980.4,1108.7 L978.7,1107.3 L977.0,1108.6 L975.3,1107.0 L973.6,1108.6 L972.5,1107.1 L971.9,1108.5 L970.2,1108.3 L968.5,1108.4 L966.8,1107.2 L965.1,1108.4 L963.4,1107.0 L961.7,1108.3 L960.0,1108.1 L958.3,1108.2 L956.6,1107.9 L954.9,1108.1 L953.2,1106.6 L951.5,1108.0 L950.0,1106.9 L949.8,1108.0 L948.1,1106.7 L946.4,1108.1 L944.7,1106.9 L943.0,1108.2 L941.3,1106.9 L939.6,1108.2 L937.9,1107.8 L936.2,1108.3 L934.5,1108.0 L932.8,1108.4 L932.0,1107.2 L931.1,1108.4 L929.4,1107.1 L927.7,1108.5 L926.0,1108.5 L924.3,1108.6 L922.6,1106.9 L920.9,1108.7 L919.2,1108.3 L917.5,1108.6 L915.8,1108.1 L914.1,1108.6 L914.0,1106.8 L912.4,1108.5 L910.7,1106.3 L909.0,1108.4 L907.3,1106.7 L905.6,1108.4 L903.9,1107.5 L902.2,1108.3 L900.5,1107.9 L898.8,1108.2 L897.1,1106.9 L895.4,1108.1 L893.7,1108.0 L892.0,1108.0 L890.3,1106.1 L890.0,1108.0 L888.6,1106.7 L886.9,1107.8 L885.2,1105.8 L883.5,1107.5 L881.8,1106.7 L880.1,1107.2 L878.4,1106.1 L876.7,1107.0 L875.0,1105.6 L875.0,1106.8 L873.3,1105.8 L871.6,1106.6 L869.9,1104.8 L868.2,1106.3 L866.5,1105.7 L864.8,1106.1 L863.1,1104.8 L861.4,1105.8 L859.7,1104.2 L858.0,1105.8 L857.0,1104.1 L856.3,1105.8 L854.6,1105.4 L852.9,1106.0 L851.2,1105.6 L849.5,1106.1 L847.8,1104.2 L846.1,1106.2 L844.4,1106.1 L842.7,1106.4 L841.0,1104.6 L839.3,1106.5 L837.6,1105.6 L837.5,1106.4 L835.9,1104.1 L834.2,1106.2 L832.5,1105.7 L830.8,1106.0 L829.1,1104.3 L827.4,1105.9 L825.7,1103.2 L824.0,1105.7 L824.0,1104.7 L822.3,1105.6 L820.6,1105.1 L818.9,1105.4 L817.2,1104.2 L815.5,1105.2 L813.8,1104.5 L812.1,1105.0 L812.0,1104.4 L810.4,1104.9 L808.7,1104.3 L807.0,1104.6 L805.3,1104.3 L803.6,1104.3 L801.9,1103.1 L800.2,1104.0 L800.0,1102.3 L798.5,1103.8 L796.8,1102.8 L795.1,1103.6 L793.4,1103.1 L791.7,1103.3 L790.0,1101.8 L788.3,1103.0 L786.6,1101.3 L785.0,1102.7 L784.9,1102.5 L783.2,1102.5 L781.5,1100.9 L779.8,1102.2 L778.1,1100.1 L776.4,1101.9 L774.7,1100.8 L773.0,1101.5 L771.3,1100.2 L770.0,1101.2 L769.6,1099.2 L767.9,1101.0 L766.2,1099.3 L764.5,1100.7 L762.8,1100.4 L761.1,1100.6 L759.4,1100.3 L757.7,1100.9 L756.0,1099.7 L754.3,1101.2 L752.6,1100.2 L752.0,1101.5 L750.9,1100.0 L749.2,1101.7 L747.5,1100.5 L745.8,1102.0 L744.1,1101.3 L742.4,1101.7 L740.7,1101.5 L740.0,1101.6 L739.0,1100.7 L737.3,1101.4 L735.6,1100.4 L733.9,1101.1 L732.2,1100.4 L730.5,1100.9 L728.8,1099.1 L727.1,1100.6 L725.4,1100.4 L725.0,1100.5 L723.7,1099.8 L722.0,1100.2 L720.3,1099.8 L718.6,1099.9 L716.9,1099.4 L715.2,1099.5 L713.5,1098.8 L713.0,1099.3 L711.8,1097.4 L710.1,1099.0 L708.4,1097.9 L706.7,1098.7 L705.0,1097.0 L705.0,1098.5 L703.3,1096.9 L701.6,1098.2 L699.9,1096.6 L698.2,1098.9 L697.0,1098.8 L696.5,1099.8 L694.8,1099.9 L693.1,1101.5 L691.4,1100.6 L690.0,1103.0 L689.7,1101.6 L688.0,1103.8 L686.3,1103.7 L684.6,1105.4 L682.9,1105.8 L682.0,1108.0 L681.2,1107.7 L679.5,1110.0 L677.8,1109.1 L676.1,1110.3 L674.4,1109.7 L673.0,1110.6 L672.7,1109.5 L671.0,1110.8 L669.3,1109.7 L667.6,1111.0 L665.9,1109.9 L664.2,1111.4 L662.5,1110.1 L662.0,1111.6 L660.8,1111.1 L659.1,1111.9 L657.4,1111.5 L655.7,1112.2 L654.0,1112.3 L652.3,1112.6 L650.6,1112.6 L650.0,1112.8 L648.9,1112.6 L647.2,1113.1 L645.5,1112.1 L643.8,1113.4 L643.0,1111.8 L642.1,1113.6 L640.4,1112.9 L640.0,1113.8 L638.7,1113.7 L637.0,1113.9 L635.3,1113.4 L633.6,1113.4 L631.9,1112.8 L630.2,1112.9 L630.0,1111.4 L628.5,1112.6 L627.0,1110.1 L626.8,1112.4 L625.1,1111.3 L625.0,1112.1 L623.4,1111.5 L621.7,1111.7 L620.0,1110.5 L620.0,1111.6 L618.3,1111.1 L616.6,1111.2 L614.9,1110.6 L613.2,1110.8 L612.0,1109.2 L611.5,1110.6 L609.8,1110.5 L608.1,1110.3 L606.4,1109.3 L605.0,1110.0 L604.7,1108.7 L603.0,1109.3 L601.3,1107.3 L601.0,1108.7 L599.6,1107.3 L597.9,1107.6 L596.2,1106.2 L594.5,1107.4 L594.0,1107.3 L592.8,1107.8 L591.1,1106.3 L590.0,1108.5 L589.4,1107.2 L587.7,1108.8 L586.0,1107.2 L584.3,1106.5 L584.0,1105.5 L582.6,1105.4 L581.1,1104.8 L580.9,1104.8 L579.2,1104.5 L579.0,1104.5 L577.5,1104.2 L576.9,1104.2 L576.0,1103.9 L575.8,1103.9 L574.1,1099.9 L572.4,1102.2 L572.0,1097.8 L571.5,1101.8 L570.7,1100.6 L569.0,1100.8 L567.5,1099.8 L567.3,1100.5 L566.0,1097.5 L565.6,1100.1 L563.9,1095.3 L563.0,1100.0 L562.2,1097.3 L560.5,1100.0 L559.0,1097.1 L558.8,1100.0 L557.5,1099.4 L557.1,1099.5 L555.4,1097.5 L553.7,1097.8 L553.5,1095.7 L552.0,1097.0 L552.0,1095.9 L550.3,1096.1 L548.6,1093.3 L548.0,1095.0 L547.0,1092.8 L546.9,1094.4 L545.2,1090.1 L543.5,1092.7 L543.0,1087.8 L541.8,1091.9 L541.0,1088.0 L540.1,1091.0 L539.5,1090.3 L538.4,1090.8 L536.7,1090.6 L535.5,1090.5 L535.0,1086.9 L533.3,1090.3 L533.0,1089.2 L532.0,1090.2 L531.6,1085.5 L529.9,1090.0 L528.2,1087.7 L528.0,1090.7 L526.5,1088.7 L526.0,1091.3 L524.8,1089.8 L523.1,1091.1 L523.0,1087.0 L522.0,1090.0 L521.4,1084.4 L519.7,1087.7 L518.0,1085.9 L518.0,1086.0 L516.3,1084.8 L515.0,1086.5 L514.6,1085.4 L514.0,1086.7 L512.9,1083.9 L511.2,1086.7 L510.0,1082.4 L509.5,1086.1 L508.0,1081.0 L507.8,1085.4 L506.1,1080.1 L506.0,1084.8 L504.4,1083.8 L502.7,1084.4 L502.0,1084.6 L501.0,1085.0 L500.0,1082.1 L499.3,1085.6 L499.0,1085.4 L497.6,1085.3 L496.0,1078.6 L495.9,1082.1 L495.0,1079.3 L494.2,1079.0 L492.5,1070.6 L491.0,1076.4 L490.8,1072.7 L489.1,1079.1 L489.0,1075.0 L487.4,1081.4 L487.0,1079.0 L485.7,1081.4 L484.0,1075.3 L482.3,1080.0 L480.6,1077.1 L480.0,1079.0 L478.9,1073.6 L478.5,1077.5 L477.2,1073.7 L475.5,1074.5 L474.0,1073.0 L473.8,1077.0 L473.5,1075.9 L472.1,1081.2 L471.0,1081.6 L470.4,1081.8 L470.0,1082.0 L468.7,1081.5 L467.0,1076.9 L467.0,1078.8 L465.3,1071.4 L463.6,1071.1 L462.0,1067.5 L461.9,1071.5 L461.0,1068.2 L460.2,1072.0 L458.5,1069.7 L458.0,1071.0 L456.8,1066.2 L456.0,1070.0 L455.1,1071.1 L453.4,1083.5 L451.7,1083.9 L450.0,1083.2 L450.0,1083.2 L448.5,1081.7 L448.3,1077.8 L448.0,1081.2 L446.6,1075.5 L444.9,1078.0 L443.5,1074.7 L443.2,1078.7 L443.0,1075.7 L441.5,1079.4 L441.0,1078.9 L439.8,1080.1 L438.6,1078.3 L438.1,1080.5 L438.0,1080.2 L436.4,1080.9 L434.7,1075.5 L433.0,1070.0 L433.0,1067.7 L432.2,1072.7 L431.3,1071.4 L429.6,1081.9 L429.6,1080.3 L427.9,1089.3 L426.2,1089.9 L424.5,1089.4 L422.8,1085.3 L422.0,1083.7 L421.1,1075.8 L421.0,1080.9 L419.4,1077.3 L417.7,1079.8 L417.0,1075.9 L416.0,1081.2 L414.3,1078.5 L414.3,1082.4 L413.6,1080.4 L412.6,1083.4 L410.9,1083.4 L409.2,1083.6 L409.0,1082.2 L408.5,1082.4 L407.5,1077.1 L406.6,1079.0 L405.8,1073.9 L404.5,1075.8 L404.1,1069.9 L404.0,1075.0 L402.4,1071.3 L401.0,1070.5 L400.7,1066.8 L399.0,1072.5 L397.3,1078.5 L396.0,1079.6 L395.6,1079.8 L395.0,1080.0 L393.9,1079.6 L392.2,1077.9 L390.6,1071.6 L390.5,1074.8 L390.0,1071.2 L388.8,1070.3 L388.7,1067.4 L387.1,1055.8 L385.4,1050.1 L384.8,1055.0 L383.7,1051.1 L382.0,1055.0 L380.3,1078.4 L379.5,1081.4 L378.6,1081.8 L378.4,1081.8 L376.9,1081.6 L376.5,1081.4 L375.2,1076.3 L374.6,1072.2 L373.5,1062.9 L371.8,1069.1 L370.7,1066.5 L370.1,1070.0 L370.0,1067.5 L368.4,1069.2 L367.7,1068.8 L366.7,1068.3 L365.6,1067.8 L365.0,1067.5 L363.5,1066.8 L363.3,1066.6 L363.0,1066.5 L361.6,1066.7 L359.9,1067.7 L359.2,1071.0 L358.2,1070.0 L357.3,1074.5 L356.6,1070.8 L356.5,1074.6 L354.8,1070.5 L353.1,1072.1 L353.0,1066.7 L351.4,1076.3 L351.0,1077.2 L349.7,1082.5 L349.0,1087.0 L348.0,1096.7 L347.0,1102.5 L346.3,1104.4 L346.1,1104.3 L344.6,1103.1 L344.0,1102.6 L342.9,1101.7 L341.9,1101.1 L341.2,1101.5 L340.0,1098.1 L339.5,1102.7 L339.0,1102.8 L337.8,1103.8 L336.1,1103.8 L336.0,1105.0 L334.4,1100.8 L334.0,1105.3 L332.7,1101.7 L331.0,1105.8 L330.0,1106.0 L329.3,1108.8 L329.0,1104.6 L327.6,1114.0 L327.0,1113.7 L325.9,1114.0 L324.2,1113.7 L324.0,1114.0 L322.5,1112.8 L320.8,1114.0 L320.0,1113.9 L319.1,1113.3 L317.4,1110.5 L316.0,1110.8 L315.7,1108.2 L314.0,1109.5 L313.0,1108.9 L312.3,1108.6 L310.6,1107.1 L309.0,1107.0 L308.9,1103.9 L307.2,1107.3 L307.0,1106.9 L305.5,1107.5 L304.0,1104.1 L303.8,1107.7 L302.1,1102.6 L300.4,1112.8 L300.0,1109.2 L299.0,1117.0 L298.7,1116.5 L297.0,1115.5 L295.3,1114.1 L295.0,1114.0 L293.6,1111.3 L291.9,1111.5 L290.2,1108.7 L289.0,1113.5 L288.5,1112.3 L287.0,1118.3 L286.8,1118.5 L285.1,1120.9 L284.0,1119.2 L283.4,1118.2 L281.7,1115.1 L281.0,1114.0 L280.0,1111.9 L279.0,1111.3 L278.3,1110.4 L278.1,1110.1 L276.6,1112.5 L276.0,1113.5 L274.9,1115.4 L274.3,1116.5 L274.0,1117.0 L273.2,1117.4 L271.5,1117.8 L270.0,1119.0 L269.8,1119.0 L268.1,1120.0 L268.0,1119.8 L266.4,1120.2 L264.7,1119.2 L264.0,1120.5 L263.0,1120.2 L261.3,1120.8 L259.6,1120.3 L259.0,1120.6 L257.9,1120.0 L256.2,1119.6 L254.5,1118.8 L254.0,1118.8 L252.8,1117.9 L251.1,1118.5 L250.0,1118.9 L249.4,1119.3 L247.7,1118.5 L246.0,1118.5 L245.0,1117.4 L244.3,1117.2 L242.6,1118.2 L242.0,1120.5 L240.9,1121.1 L239.2,1124.2 L239.0,1124.2 L237.5,1124.5 L235.8,1124.3 L234.1,1125.2 L232.4,1125.3 L232.0,1125.6 L230.7,1125.7 L229.0,1126.1 L227.3,1126.0 L225.6,1126.4 L225.0,1126.4 L223.9,1126.6 L222.2,1126.6 L220.5,1127.0 L218.8,1127.3 L218.0,1128.2 L217.1,1127.8 L215.4,1129.8 L213.7,1129.4 L212.0,1130.0 L210.3,1129.5 L210.0,1130.0 L208.6,1130.0 L206.9,1130.0 L205.2,1129.6 L205.0,1130.0 L203.5,1129.1 L201.8,1130.0 L200.1,1129.8 L200.0,1130.0 L198.4,1129.8 L196.7,1130.0 L195.0,1130.0 Z" fill="#000" stroke="#000" stroke-width="0.6" stroke-linejoin="round"/>
<path d="M72.0,1128.0 L150.0,1128.0 L196.0,1128.0" fill="none" stroke="#000" stroke-width="4.2" stroke-linejoin="round" stroke-linecap="round"/>
<path d="M382.0,769.6 L382.0,988.9 M398.4,805.6 L398.4,981.8 M361.0,914.6 L361.0,917.5 M367.6,903.6 L367.6,909.3 M435.4,940.6 L435.4,945.0 M445.6,971.6 L445.6,977.0 M464.5,986.6 L464.5,992.0 M476.0,999.6 L476.0,1005.0 M411.0,914.6 L411.0,919.9" fill="none" stroke="#000" stroke-width="5.3" stroke-linecap="round"/>
<rect x="76.30" y="4.60" width="917.90" height="527.60" fill="none" stroke="#000" stroke-width="4.6"/>
<line x1="91.7" y1="533.5" x2="91.7" y2="537.0" stroke="#000" stroke-width="4.6" stroke-linecap="round"/>
<line x1="121.7" y1="533.5" x2="121.7" y2="543.0" stroke="#000" stroke-width="4.6" stroke-linecap="round"/>
<line x1="151.8" y1="533.5" x2="151.8" y2="537.0" stroke="#000" stroke-width="4.6" stroke-linecap="round"/>
<line x1="181.8" y1="533.5" x2="181.8" y2="543.0" stroke="#000" stroke-width="4.6" stroke-linecap="round"/>
<line x1="211.9" y1="533.5" x2="211.9" y2="537.0" stroke="#000" stroke-width="4.6" stroke-linecap="round"/>
<line x1="241.9" y1="533.5" x2="241.9" y2="543.0" stroke="#000" stroke-width="4.6" stroke-linecap="round"/>
<line x1="271.9" y1="533.5" x2="271.9" y2="537.0" stroke="#000" stroke-width="4.6" stroke-linecap="round"/>
<line x1="302.0" y1="533.5" x2="302.0" y2="543.0" stroke="#000" stroke-width="4.6" stroke-linecap="round"/>
<line x1="332.1" y1="533.5" x2="332.1" y2="537.0" stroke="#000" stroke-width="4.6" stroke-linecap="round"/>
<line x1="362.1" y1="533.5" x2="362.1" y2="543.0" stroke="#000" stroke-width="4.6" stroke-linecap="round"/>
<line x1="392.1" y1="533.5" x2="392.1" y2="537.0" stroke="#000" stroke-width="4.6" stroke-linecap="round"/>
<line x1="422.2" y1="533.5" x2="422.2" y2="543.0" stroke="#000" stroke-width="4.6" stroke-linecap="round"/>
<line x1="452.2" y1="533.5" x2="452.2" y2="537.0" stroke="#000" stroke-width="4.6" stroke-linecap="round"/>
<line x1="482.3" y1="533.5" x2="482.3" y2="543.0" stroke="#000" stroke-width="4.6" stroke-linecap="round"/>
<line x1="512.4" y1="533.5" x2="512.4" y2="537.0" stroke="#000" stroke-width="4.6" stroke-linecap="round"/>
<line x1="542.4" y1="533.5" x2="542.4" y2="543.0" stroke="#000" stroke-width="4.6" stroke-linecap="round"/>
<line x1="572.5" y1="533.5" x2="572.5" y2="537.0" stroke="#000" stroke-width="4.6" stroke-linecap="round"/>
<line x1="602.5" y1="533.5" x2="602.5" y2="543.0" stroke="#000" stroke-width="4.6" stroke-linecap="round"/>
<line x1="632.6" y1="533.5" x2="632.6" y2="537.0" stroke="#000" stroke-width="4.6" stroke-linecap="round"/>
<line x1="662.6" y1="533.5" x2="662.6" y2="543.0" stroke="#000" stroke-width="4.6" stroke-linecap="round"/>
<line x1="692.7" y1="533.5" x2="692.7" y2="537.0" stroke="#000" stroke-width="4.6" stroke-linecap="round"/>
<line x1="722.7" y1="533.5" x2="722.7" y2="543.0" stroke="#000" stroke-width="4.6" stroke-linecap="round"/>
<line x1="752.8" y1="533.5" x2="752.8" y2="537.0" stroke="#000" stroke-width="4.6" stroke-linecap="round"/>
<line x1="782.8" y1="533.5" x2="782.8" y2="543.0" stroke="#000" stroke-width="4.6" stroke-linecap="round"/>
<line x1="812.9" y1="533.5" x2="812.9" y2="537.0" stroke="#000" stroke-width="4.6" stroke-linecap="round"/>
<line x1="842.9" y1="533.5" x2="842.9" y2="543.0" stroke="#000" stroke-width="4.6" stroke-linecap="round"/>
<line x1="873.0" y1="533.5" x2="873.0" y2="537.0" stroke="#000" stroke-width="4.6" stroke-linecap="round"/>
<line x1="903.0" y1="533.5" x2="903.0" y2="543.0" stroke="#000" stroke-width="4.6" stroke-linecap="round"/>
<line x1="933.1" y1="533.5" x2="933.1" y2="537.0" stroke="#000" stroke-width="4.6" stroke-linecap="round"/>
<line x1="963.1" y1="533.5" x2="963.1" y2="543.0" stroke="#000" stroke-width="4.6" stroke-linecap="round"/>
<rect x="1079.10" y="7.10" width="914.70" height="525.90" fill="none" stroke="#000" stroke-width="4.6"/>
<line x1="1093.7" y1="534.3" x2="1093.7" y2="537.8" stroke="#000" stroke-width="4.6" stroke-linecap="round"/>
<line x1="1123.7" y1="534.3" x2="1123.7" y2="543.8" stroke="#000" stroke-width="4.6" stroke-linecap="round"/>
<line x1="1153.7" y1="534.3" x2="1153.7" y2="537.8" stroke="#000" stroke-width="4.6" stroke-linecap="round"/>
<line x1="1183.7" y1="534.3" x2="1183.7" y2="543.8" stroke="#000" stroke-width="4.6" stroke-linecap="round"/>
<line x1="1213.7" y1="534.3" x2="1213.7" y2="537.8" stroke="#000" stroke-width="4.6" stroke-linecap="round"/>
<line x1="1243.7" y1="534.3" x2="1243.7" y2="543.8" stroke="#000" stroke-width="4.6" stroke-linecap="round"/>
<line x1="1273.7" y1="534.3" x2="1273.7" y2="537.8" stroke="#000" stroke-width="4.6" stroke-linecap="round"/>
<line x1="1303.7" y1="534.3" x2="1303.7" y2="543.8" stroke="#000" stroke-width="4.6" stroke-linecap="round"/>
<line x1="1333.7" y1="534.3" x2="1333.7" y2="537.8" stroke="#000" stroke-width="4.6" stroke-linecap="round"/>
<line x1="1363.7" y1="534.3" x2="1363.7" y2="543.8" stroke="#000" stroke-width="4.6" stroke-linecap="round"/>
<line x1="1393.7" y1="534.3" x2="1393.7" y2="537.8" stroke="#000" stroke-width="4.6" stroke-linecap="round"/>
<line x1="1423.7" y1="534.3" x2="1423.7" y2="543.8" stroke="#000" stroke-width="4.6" stroke-linecap="round"/>
<line x1="1453.7" y1="534.3" x2="1453.7" y2="537.8" stroke="#000" stroke-width="4.6" stroke-linecap="round"/>
<line x1="1483.7" y1="534.3" x2="1483.7" y2="543.8" stroke="#000" stroke-width="4.6" stroke-linecap="round"/>
<line x1="1513.7" y1="534.3" x2="1513.7" y2="537.8" stroke="#000" stroke-width="4.6" stroke-linecap="round"/>
<line x1="1543.7" y1="534.3" x2="1543.7" y2="543.8" stroke="#000" stroke-width="4.6" stroke-linecap="round"/>
<line x1="1573.7" y1="534.3" x2="1573.7" y2="537.8" stroke="#000" stroke-width="4.6" stroke-linecap="round"/>
<line x1="1603.7" y1="534.3" x2="1603.7" y2="543.8" stroke="#000" stroke-width="4.6" stroke-linecap="round"/>
<line x1="1633.7" y1="534.3" x2="1633.7" y2="537.8" stroke="#000" stroke-width="4.6" stroke-linecap="round"/>
<line x1="1663.7" y1="534.3" x2="1663.7" y2="543.8" stroke="#000" stroke-width="4.6" stroke-linecap="round"/>
<line x1="1693.7" y1="534.3" x2="1693.7" y2="537.8" stroke="#000" stroke-width="4.6" stroke-linecap="round"/>
<line x1="1723.7" y1="534.3" x2="1723.7" y2="543.8" stroke="#000" stroke-width="4.6" stroke-linecap="round"/>
<line x1="1753.7" y1="534.3" x2="1753.7" y2="537.8" stroke="#000" stroke-width="4.6" stroke-linecap="round"/>
<line x1="1783.7" y1="534.3" x2="1783.7" y2="543.8" stroke="#000" stroke-width="4.6" stroke-linecap="round"/>
<line x1="1813.7" y1="534.3" x2="1813.7" y2="537.8" stroke="#000" stroke-width="4.6" stroke-linecap="round"/>
<line x1="1843.7" y1="534.3" x2="1843.7" y2="543.8" stroke="#000" stroke-width="4.6" stroke-linecap="round"/>
<line x1="1873.7" y1="534.3" x2="1873.7" y2="537.8" stroke="#000" stroke-width="4.6" stroke-linecap="round"/>
<line x1="1903.7" y1="534.3" x2="1903.7" y2="543.8" stroke="#000" stroke-width="4.6" stroke-linecap="round"/>
<line x1="1933.7" y1="534.3" x2="1933.7" y2="537.8" stroke="#000" stroke-width="4.6" stroke-linecap="round"/>
<line x1="1963.7" y1="534.3" x2="1963.7" y2="543.8" stroke="#000" stroke-width="4.6" stroke-linecap="round"/>
<rect x="69.50" y="660.80" width="934.00" height="538.40" fill="none" stroke="#000" stroke-width="4.6"/>
<line x1="83.7" y1="1200.5" x2="83.7" y2="1204.0" stroke="#000" stroke-width="4.6" stroke-linecap="round"/>
<line x1="114.4" y1="1200.5" x2="114.4" y2="1210.0" stroke="#000" stroke-width="4.6" stroke-linecap="round"/>
<line x1="145.1" y1="1200.5" x2="145.1" y2="1204.0" stroke="#000" stroke-width="4.6" stroke-linecap="round"/>
<line x1="175.7" y1="1200.5" x2="175.7" y2="1210.0" stroke="#000" stroke-width="4.6" stroke-linecap="round"/>
<line x1="206.4" y1="1200.5" x2="206.4" y2="1204.0" stroke="#000" stroke-width="4.6" stroke-linecap="round"/>
<line x1="237.0" y1="1200.5" x2="237.0" y2="1210.0" stroke="#000" stroke-width="4.6" stroke-linecap="round"/>
<line x1="267.7" y1="1200.5" x2="267.7" y2="1204.0" stroke="#000" stroke-width="4.6" stroke-linecap="round"/>
<line x1="298.4" y1="1200.5" x2="298.4" y2="1210.0" stroke="#000" stroke-width="4.6" stroke-linecap="round"/>
<line x1="329.0" y1="1200.5" x2="329.0" y2="1204.0" stroke="#000" stroke-width="4.6" stroke-linecap="round"/>
<line x1="359.7" y1="1200.5" x2="359.7" y2="1210.0" stroke="#000" stroke-width="4.6" stroke-linecap="round"/>
<line x1="390.3" y1="1200.5" x2="390.3" y2="1204.0" stroke="#000" stroke-width="4.6" stroke-linecap="round"/>
<line x1="421.0" y1="1200.5" x2="421.0" y2="1210.0" stroke="#000" stroke-width="4.6" stroke-linecap="round"/>
<line x1="451.7" y1="1200.5" x2="451.7" y2="1204.0" stroke="#000" stroke-width="4.6" stroke-linecap="round"/>
<line x1="482.3" y1="1200.5" x2="482.3" y2="1210.0" stroke="#000" stroke-width="4.6" stroke-linecap="round"/>
<line x1="513.0" y1="1200.5" x2="513.0" y2="1204.0" stroke="#000" stroke-width="4.6" stroke-linecap="round"/>
<line x1="543.6" y1="1200.5" x2="543.6" y2="1210.0" stroke="#000" stroke-width="4.6" stroke-linecap="round"/>
<line x1="574.3" y1="1200.5" x2="574.3" y2="1204.0" stroke="#000" stroke-width="4.6" stroke-linecap="round"/>
<line x1="605.0" y1="1200.5" x2="605.0" y2="1210.0" stroke="#000" stroke-width="4.6" stroke-linecap="round"/>
<line x1="635.6" y1="1200.5" x2="635.6" y2="1204.0" stroke="#000" stroke-width="4.6" stroke-linecap="round"/>
<line x1="666.3" y1="1200.5" x2="666.3" y2="1210.0" stroke="#000" stroke-width="4.6" stroke-linecap="round"/>
<line x1="696.9" y1="1200.5" x2="696.9" y2="1204.0" stroke="#000" stroke-width="4.6" stroke-linecap="round"/>
<line x1="727.6" y1="1200.5" x2="727.6" y2="1210.0" stroke="#000" stroke-width="4.6" stroke-linecap="round"/>
<line x1="758.3" y1="1200.5" x2="758.3" y2="1204.0" stroke="#000" stroke-width="4.6" stroke-linecap="round"/>
<line x1="788.9" y1="1200.5" x2="788.9" y2="1210.0" stroke="#000" stroke-width="4.6" stroke-linecap="round"/>
<line x1="819.6" y1="1200.5" x2="819.6" y2="1204.0" stroke="#000" stroke-width="4.6" stroke-linecap="round"/>
<line x1="850.2" y1="1200.5" x2="850.2" y2="1210.0" stroke="#000" stroke-width="4.6" stroke-linecap="round"/>
<line x1="880.9" y1="1200.5" x2="880.9" y2="1204.0" stroke="#000" stroke-width="4.6" stroke-linecap="round"/>
<line x1="911.6" y1="1200.5" x2="911.6" y2="1210.0" stroke="#000" stroke-width="4.6" stroke-linecap="round"/>
<line x1="942.2" y1="1200.5" x2="942.2" y2="1204.0" stroke="#000" stroke-width="4.6" stroke-linecap="round"/>
<line x1="972.9" y1="1200.5" x2="972.9" y2="1210.0" stroke="#000" stroke-width="4.6" stroke-linecap="round"/>
<text x="113.36" y="577.97" font-size="33.04" font-family="'Liberation Serif', 'Times New Roman', serif">4</text>
<text x="173.33" y="577.97" font-size="33.04" font-family="'Liberation Serif', 'Times New Roman', serif">6</text>
<text x="233.64" y="577.97" font-size="33.04" font-family="'Liberation Serif', 'Times New Roman', serif">8</text>
<text x="284.66" y="577.97" font-size="33.04" font-family="'Liberation Serif', 'Times New Roman', serif">10</text>
<text x="345.04" y="577.97" font-size="33.04" font-family="'Liberation Serif', 'Times New Roman', serif">12</text>
<text x="404.48" y="577.97" font-size="33.04" font-family="'Liberation Serif', 'Times New Roman', serif">14</text>
<text x="464.83" y="577.97" font-size="33.04" font-family="'Liberation Serif', 'Times New Roman', serif">16</text>
<text x="525.06" y="577.97" font-size="33.04" font-family="'Liberation Serif', 'Times New Roman', serif">18</text>
<text x="585.86" y="577.97" font-size="33.04" font-family="'Liberation Serif', 'Times New Roman', serif">20</text>
<text x="646.25" y="577.97" font-size="33.04" font-family="'Liberation Serif', 'Times New Roman', serif">22</text>
<text x="705.69" y="577.97" font-size="33.04" font-family="'Liberation Serif', 'Times New Roman', serif">24</text>
<text x="766.03" y="577.97" font-size="33.04" font-family="'Liberation Serif', 'Times New Roman', serif">26</text>
<text x="826.26" y="577.97" font-size="33.04" font-family="'Liberation Serif', 'Times New Roman', serif">28</text>
<text x="886.32" y="577.97" font-size="33.04" font-family="'Liberation Serif', 'Times New Roman', serif">30</text>
<text x="946.71" y="577.97" font-size="33.04" font-family="'Liberation Serif', 'Times New Roman', serif">32</text>
<text x="1115.36" y="578.97" font-size="33.04" font-family="'Liberation Serif', 'Times New Roman', serif">4</text>
<text x="1175.23" y="578.97" font-size="33.04" font-family="'Liberation Serif', 'Times New Roman', serif">6</text>
<text x="1235.44" y="578.97" font-size="33.04" font-family="'Liberation Serif', 'Times New Roman', serif">8</text>
<text x="1286.36" y="578.97" font-size="33.04" font-family="'Liberation Serif', 'Times New Roman', serif">10</text>
<text x="1346.64" y="578.97" font-size="33.04" font-family="'Liberation Serif', 'Times New Roman', serif">12</text>
<text x="1405.98" y="578.97" font-size="33.04" font-family="'Liberation Serif', 'Times New Roman', serif">14</text>
<text x="1466.23" y="578.97" font-size="33.04" font-family="'Liberation Serif', 'Times New Roman', serif">16</text>
<text x="1526.36" y="578.97" font-size="33.04" font-family="'Liberation Serif', 'Times New Roman', serif">18</text>
<text x="1587.06" y="578.97" font-size="33.04" font-family="'Liberation Serif', 'Times New Roman', serif">20</text>
<text x="1647.35" y="578.97" font-size="33.04" font-family="'Liberation Serif', 'Times New Roman', serif">22</text>
<text x="1706.69" y="578.97" font-size="33.04" font-family="'Liberation Serif', 'Times New Roman', serif">24</text>
<text x="1766.93" y="578.97" font-size="33.04" font-family="'Liberation Serif', 'Times New Roman', serif">26</text>
<text x="1827.06" y="578.97" font-size="33.04" font-family="'Liberation Serif', 'Times New Roman', serif">28</text>
<text x="1887.02" y="578.97" font-size="33.04" font-family="'Liberation Serif', 'Times New Roman', serif">30</text>
<text x="1947.31" y="578.97" font-size="33.04" font-family="'Liberation Serif', 'Times New Roman', serif">32</text>
<text x="105.98" y="1245.97" font-size="33.33" font-family="'Liberation Serif', 'Times New Roman', serif">4</text>
<text x="167.18" y="1245.97" font-size="33.33" font-family="'Liberation Serif', 'Times New Roman', serif">6</text>
<text x="228.71" y="1245.97" font-size="33.33" font-family="'Liberation Serif', 'Times New Roman', serif">8</text>
<text x="280.86" y="1245.97" font-size="33.33" font-family="'Liberation Serif', 'Times New Roman', serif">10</text>
<text x="342.47" y="1245.97" font-size="33.33" font-family="'Liberation Serif', 'Times New Roman', serif">12</text>
<text x="403.12" y="1245.97" font-size="33.33" font-family="'Liberation Serif', 'Times New Roman', serif">14</text>
<text x="464.70" y="1245.97" font-size="33.33" font-family="'Liberation Serif', 'Times New Roman', serif">16</text>
<text x="526.14" y="1245.97" font-size="33.33" font-family="'Liberation Serif', 'Times New Roman', serif">18</text>
<text x="588.17" y="1245.97" font-size="33.33" font-family="'Liberation Serif', 'Times New Roman', serif">20</text>
<text x="649.78" y="1245.97" font-size="33.33" font-family="'Liberation Serif', 'Times New Roman', serif">22</text>
<text x="710.43" y="1245.97" font-size="33.33" font-family="'Liberation Serif', 'Times New Roman', serif">24</text>
<text x="772.00" y="1245.97" font-size="33.33" font-family="'Liberation Serif', 'Times New Roman', serif">26</text>
<text x="833.45" y="1245.97" font-size="33.33" font-family="'Liberation Serif', 'Times New Roman', serif">28</text>
<text x="894.73" y="1245.97" font-size="33.33" font-family="'Liberation Serif', 'Times New Roman', serif">30</text>
<text x="956.34" y="1245.97" font-size="33.33" font-family="'Liberation Serif', 'Times New Roman', serif">32</text>
<text transform="translate(105.06,66.08) scale(1.0872,1)" font-size="57.96" font-weight="bold" fill="#000" font-family="'Liberation Serif', 'Times New Roman', serif">(a)</text>
<text transform="translate(1115.68,65.85) scale(1.0885,1)" font-size="57.63" font-weight="bold" fill="#000" font-family="'Liberation Serif', 'Times New Roman', serif">(b)</text>
<text transform="translate(104.43,733.18) scale(1.1001,1)" font-size="57.96" font-weight="bold" fill="#000" font-family="'Liberation Serif', 'Times New Roman', serif">(c)</text>
<text transform="translate(1115.68,733.18) scale(1.0823,1)" font-size="57.96" font-weight="bold" fill="#000" font-family="'Liberation Serif', 'Times New Roman', serif">(d)</text>
<text transform="translate(798.44,81.28) scale(0.9522,1)" font-size="52.04" font-weight="bold" fill="#000" font-family="'Liberation Serif', 'Times New Roman', serif">m/z=91</text>
<text transform="translate(1817.75,68.46) scale(0.9530,1)" font-size="43.70" font-weight="bold" fill="#000" font-family="'Liberation Serif', 'Times New Roman', serif">m/z=107</text>
<text transform="translate(811.65,726.87) scale(0.9645,1)" font-size="43.42" font-weight="bold" fill="#000" font-family="'Liberation Serif', 'Times New Roman', serif">m/z=123</text>
<text transform="translate(309.52,633.93) scale(1.0574,1)" font-size="42.20" font-weight="bold" fill="#000" font-family="'Liberation Serif', 'Times New Roman', serif">Retention Time (min)</text>
<text transform="translate(1349.02,630.90) scale(1.0289,1)" font-size="43.31" font-weight="bold" fill="#000" font-family="'Liberation Serif', 'Times New Roman', serif">Retention Time (min)</text>
<text transform="translate(758.85,374.88) scale(0.9719,1)" font-size="28.09" font-weight="bold" fill="#000" font-family="'Liberation Serif', 'Times New Roman', serif">m/z: 91.05</text>
<text transform="translate(1727.13,374.17) scale(0.9761,1)" font-size="28.53" font-weight="bold" fill="#000" font-family="'Liberation Serif', 'Times New Roman', serif">m/z: 107.05</text>
<text transform="translate(728.87,1050.47) scale(0.9323,1)" font-size="28.53" font-weight="bold" fill="#000" font-family="'Liberation Serif', 'Times New Roman', serif">m/z: 123.04</text>
<text transform="translate(43.25,390.46) rotate(-90) scale(1.0675,1)" font-size="42.09" font-weight="bold" font-family="'Liberation Serif', 'Times New Roman', serif">Intensity (a.u)</text>
<text transform="translate(1044.47,390.54) rotate(-90) scale(1.0218,1)" font-size="43.41" font-weight="bold" font-family="'Liberation Serif', 'Times New Roman', serif">Intensity (a.u)</text>
<text transform="translate(32.54,1050.47) rotate(-90) scale(1.0414,1)" font-size="43.52" font-weight="bold" font-family="'Liberation Serif', 'Times New Roman', serif">Intensity (a.u)</text>
<text transform="translate(664.14,335.89) scale(1.0016,1)" font-size="27.18" font-weight="bold" fill="#000" font-family="'Liberation Serif', 'Times New Roman', serif">Chemical Formula: C<tspan font-size="17" dy="6">7</tspan><tspan dy="-6">H</tspan><tspan font-size="17" dy="6">7</tspan><tspan font-size="16" dy="-17">+</tspan></text>
<text transform="translate(1626.10,334.59) scale(1.0369,1)" font-size="27.04" font-weight="bold" fill="#000" font-family="'Liberation Serif', 'Times New Roman', serif">Chemical Formula: C<tspan font-size="17" dy="6">7</tspan><tspan dy="-6">H</tspan><tspan font-size="17" dy="6">7</tspan><tspan dy="-6">O</tspan><tspan font-size="16" dy="-11">+</tspan></text>
<text transform="translate(626.26,1011.60) scale(1.0024,1)" font-size="26.76" font-weight="bold" fill="#000" font-family="'Liberation Serif', 'Times New Roman', serif">Chemical Formula: C<tspan font-size="17" dy="6">7</tspan><tspan dy="-6">H</tspan><tspan font-size="17" dy="6">7</tspan><tspan dy="-6">O</tspan><tspan font-size="17" dy="6">2</tspan><tspan font-size="16" dy="-17">+</tspan></text>
<path d="M799.7,175.5 L845.8,196.0 L857.3,245.9 L825.3,285.6 L775.4,285.6 L743.3,245.9 L753.6,197.2 Z" fill="none" stroke="#FF1A14" stroke-width="2.5" stroke-linejoin="miter" stroke-linecap="butt"/>
<line x1="758.8" y1="201.2" x2="799.5" y2="182.0" stroke="#FF1A14" stroke-width="2.4"/>
<line x1="750.0" y1="245.0" x2="777.7" y2="279.2" stroke="#FF1A14" stroke-width="2.4"/>
<line x1="850.6" y1="245.0" x2="823.0" y2="279.2" stroke="#FF1A14" stroke-width="2.4"/>
<line x1="845.8" y1="196.0" x2="871.4" y2="176.7" stroke="#FF1A14" stroke-width="2.5"/>
<text transform="translate(874.14,175.20) scale(0.9166,1)" font-size="28.70" font-weight="bold" fill="#FF1A14" font-family="'Liberation Serif', 'Times New Roman', serif">H</text>
<path d="M845.2,186.6 L847.9,189.4 L845.2,192.2 L842.5,189.4 Z" fill="#FF1A14"/>
<path d="M1767.7,170.3 L1818.9,198.5 L1818.9,258.7 L1767.7,288.2 L1715.2,258.7 L1715.2,198.5 Z" fill="none" stroke="#1E5A14" stroke-width="2.5" stroke-linejoin="miter" stroke-linecap="butt"/>
<line x1="1721.8" y1="202.3" x2="1767.3" y2="177.9" stroke="#1E5A14" stroke-width="2.4"/>
<line x1="1812.4" y1="202.5" x2="1812.4" y2="254.7" stroke="#1E5A14" stroke-width="2.4"/>
<line x1="1721.9" y1="255.0" x2="1767.4" y2="280.6" stroke="#1E5A14" stroke-width="2.4"/>
<line x1="1767.7" y1="170.3" x2="1767.7" y2="124.2" stroke="#1E5A14" stroke-width="2.5"/>
<line x1="1818.9" y1="258.7" x2="1871.4" y2="288.2" stroke="#1E5A14" stroke-width="2.5"/>
<text transform="translate(1754.99,119.42) scale(1.0192,1)" font-size="27.66" font-weight="bold" fill="#0F4A0A" font-family="'Liberation Serif', 'Times New Roman', serif">OH</text>
<text x="1880.5" y="296" font-size="23" font-weight="bold" text-anchor="middle" fill="#1E5A14" font-family="'Liberation Serif', 'Times New Roman', serif">+</text>
<path d="M753.5,842.8 L802.9,870.1 L802.9,928.6 L753.5,955.9 L704.1,927.3 L704.1,870.1 Z" fill="none" stroke="#1F4E8A" stroke-width="2.5" stroke-linejoin="miter" stroke-linecap="butt"/>
<line x1="710.7" y1="873.9" x2="753.1" y2="850.4" stroke="#1F4E8A" stroke-width="2.4"/>
<line x1="796.4" y1="874.1" x2="796.4" y2="924.6" stroke="#1F4E8A" stroke-width="2.4"/>
<line x1="710.8" y1="923.7" x2="753.3" y2="948.3" stroke="#1F4E8A" stroke-width="2.4"/>
<line x1="753.5" y1="842.8" x2="753.5" y2="798.6" stroke="#1F4E8A" stroke-width="2.5"/>
<line x1="802.9" y1="870.1" x2="840.6" y2="848.0" stroke="#1F4E8A" stroke-width="2.5"/>
<line x1="802.9" y1="928.6" x2="853.6" y2="957.2" stroke="#1F4E8A" stroke-width="2.5"/>
<text transform="translate(742.87,793.11) scale(0.9309,1)" font-size="28.55" font-weight="bold" fill="#0F2A5C" font-family="'Liberation Serif', 'Times New Roman', serif">OH</text>
<text transform="translate(842.18,850.81) scale(0.9027,1)" font-size="29.14" font-weight="bold" fill="#0F2A5C" font-family="'Liberation Serif', 'Times New Roman', serif">OH</text>
<text x="862.7" y="964" font-size="23" font-weight="bold" text-anchor="middle" fill="#1F4E8A" font-family="'Liberation Serif', 'Times New Roman', serif">+</text>
<path d="M1473.5,881.4 L1589.4,947.6 L1589.4,1081.6 L1473.5,1148.6 L1356.8,1080.3 L1356.8,946.3 Z" fill="none" stroke="#000" stroke-width="4.4" stroke-linejoin="miter" stroke-linecap="butt"/>
<line x1="1371.6" y1="956.4" x2="1474.3" y2="899.3" stroke="#000" stroke-width="4.4"/>
<line x1="1573.4" y1="955.6" x2="1573.4" y2="1073.6" stroke="#000" stroke-width="4.4"/>
<line x1="1371.8" y1="1070.5" x2="1474.7" y2="1130.8" stroke="#000" stroke-width="4.4"/>
<line x1="1473.5" y1="881.4" x2="1473.5" y2="778.9" stroke="#000" stroke-width="4.4"/>
<line x1="1589.4" y1="947.6" x2="1678.0" y2="895.7" stroke="#000" stroke-width="4.4"/>
<line x1="1589.4" y1="1081.6" x2="1674.6" y2="1129.2" stroke="#000" stroke-width="4.4"/>
<text transform="translate(1447.39,766.97) scale(0.9809,1)" font-size="63.49" font-weight="bold" fill="#000" font-family="'Liberation Serif', 'Times New Roman', serif">OH</text>
<text transform="translate(1677.98,900.87) scale(0.9923,1)" font-size="62.90" font-weight="bold" fill="#000" font-family="'Liberation Serif', 'Times New Roman', serif">OH</text>
<text transform="translate(1681.43,1171.00) scale(0.9454,1)" font-size="64.58" font-weight="bold" fill="#000" font-family="'Liberation Serif', 'Times New Roman', serif">R</text></svg>
</body></html>
